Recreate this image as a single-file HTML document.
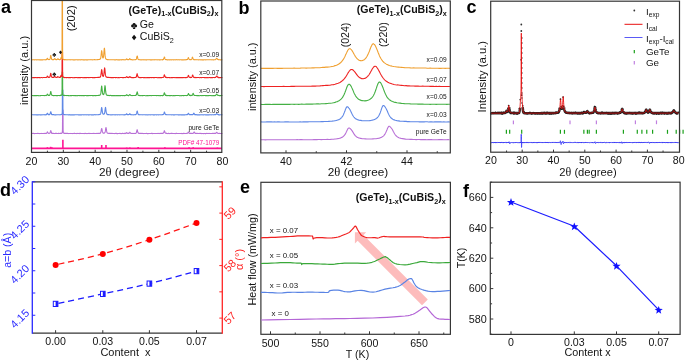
<!DOCTYPE html>
<html><head><meta charset="utf-8"><style>
html,body{margin:0;padding:0;background:#fff;}
svg{display:block;will-change:transform;font-family:"Liberation Sans", sans-serif;}
</style></head><body>
<svg width="685" height="360" viewBox="0 0 685 360">
<rect width="685" height="360" fill="#fff"/>
<path d="M31.5,133.43 32.01,133.4 32.52,133.47 33.03,133.41 33.54,133.39 34.05,133.47 34.56,133.6 35.06,133.57 35.57,133.56 36.08,133.43 36.59,133.5 37.1,133.44 37.61,133.42 38.12,133.4 38.63,133.43 39.14,133.6 39.65,133.57 40.16,133.57 40.67,133.56 41.18,133.42 41.69,133.44 42.19,133.52 42.7,133.54 43.21,133.57 43.72,133.57 44.23,133.37 44.74,133.49 45.25,133.49 45.38,133.45 45.51,133.36 45.63,133.43 45.76,133.33 45.89,133.52 46.01,133.49 46.14,133.4 46.27,133.31 46.4,133.41 46.52,133.26 46.65,133.23 46.78,133.07 46.91,132.79 47.03,132.52 47.16,132.3 47.29,132.04 47.41,131.89 47.54,132.01 47.67,132.34 47.8,132.41 47.92,132.66 48.05,133 48.18,133.06 48.31,133.22 48.43,133.27 48.56,133.27 48.69,133.45 48.82,133.26 48.94,133.32 49.07,133.26 49.2,133.36 49.32,133.26 49.45,133.25 49.58,133.3 49.71,133.13 49.83,133.08 49.96,132.99 50.09,132.55 50.22,132.18 50.34,131.78 50.47,131.42 50.6,130.95 50.73,130.63 50.85,130.73 50.98,131.05 51.11,131.6 51.23,131.98 51.36,132.54 51.49,132.89 51.62,133.12 51.74,133.21 51.87,133.35 52,133.18 52.13,133.28 52.25,133.47 52.38,133.44 52.51,133.37 52.64,133.51 52.76,133.44 52.89,133.5 53.02,133.38 53.14,133.36 53.27,133.43 53.4,133.36 53.91,133.43 54.42,133.58 54.93,133.43 55.44,133.36 55.95,133.37 56.45,133.4 56.96,133.54 57.47,133.44 57.98,133.42 58.49,133.37 59,133.58 59.51,133.44 60.02,133.37 60.53,133.31 60.66,133.29 60.78,133.31 60.91,133.42 61.04,133.27 61.17,133.23 61.29,133.31 61.42,133.22 61.55,133.36 61.67,133.09 61.71,133.17 61.75,133.2 61.79,133.09 61.83,133.2 61.87,133.05 61.9,132.96 61.94,132.97 61.98,132.84 62.02,132.88 62.06,132.79 62.09,132.89 62.13,132.81 62.17,132.66 62.21,132.47 62.25,132.44 62.29,132.33 62.32,132.18 62.36,131.94 62.4,131.59 62.44,130.2 62.48,127.3 62.52,121.24 62.55,110 62.59,110 62.63,110 62.67,110 62.71,110 62.74,110 62.78,110 62.82,110 62.86,110 62.9,110 62.94,110 62.97,110 63.01,110 63.05,117.83 63.09,125.84 63.13,129.65 63.16,131.24 63.2,131.96 63.24,132.19 63.28,132.38 63.32,132.51 63.36,132.5 63.39,132.74 63.43,132.82 63.47,132.68 63.51,132.95 63.64,133.1 63.76,133.14 63.89,133.06 64.02,133.33 64.14,133.19 64.27,133.42 64.4,133.38 64.53,133.25 64.65,133.3 64.78,133.42 64.91,133.42 65.04,133.47 65.16,133.52 65.29,133.36 65.42,133.32 65.93,133.55 66.44,133.35 66.95,133.56 67.46,133.38 67.96,133.55 68.47,133.55 68.98,133.58 69.49,133.5 70,133.58 70.51,133.42 71.02,133.53 71.53,133.45 72.04,133.59 72.55,133.56 73.06,133.49 73.57,133.5 74.08,133.38 74.59,133.38 75.09,133.52 75.6,133.49 76.11,133.58 76.62,133.52 77.13,133.41 77.64,133.46 78.15,133.56 78.66,133.5 79.17,133.38 79.68,133.58 80.19,133.57 80.7,133.39 81.21,133.5 81.72,133.47 82.22,133.56 82.73,133.45 83.24,133.43 83.75,133.49 84.26,133.61 84.77,133.4 85.28,133.4 85.79,133.52 86.3,133.58 86.81,133.5 87.32,133.48 87.83,133.58 88.34,133.56 88.84,133.39 89.35,133.58 89.86,133.42 90.37,133.44 90.88,133.57 91.39,133.47 91.9,133.56 92.41,133.4 92.92,133.57 93.43,133.4 93.94,133.39 94.45,133.47 94.96,133.43 95.47,133.48 95.97,133.56 96.48,133.51 96.99,133.33 97.5,133.39 98.01,133.43 98.52,133.4 99.03,133.42 99.54,133.3 99.67,133.19 99.79,133.2 99.92,133.31 100.05,133.15 100.18,133.2 100.3,133.17 100.43,132.98 100.56,132.82 100.69,132.57 100.81,132.16 100.94,131.86 101.07,131.18 101.19,130.61 101.32,129.73 101.45,129.18 101.58,128.66 101.7,128.48 101.83,128.69 101.96,129.18 102.09,130.04 102.21,130.66 102.34,131.38 102.47,131.78 102.6,132.17 102.72,132.48 102.85,132.85 102.98,132.83 103.1,133.1 103.23,133.03 103.36,133.11 103.49,133.08 103.61,133.16 103.74,133.04 103.87,133.11 104,133.23 104.12,133.03 104.25,133.12 104.38,133 104.51,132.93 104.63,132.77 104.76,132.63 104.89,132.65 105.01,132.31 105.14,131.88 105.27,131.31 105.4,130.63 105.52,129.61 105.65,128.84 105.78,128.04 105.91,127.56 106.03,127.6 106.16,127.98 106.29,128.77 106.42,129.44 106.54,130.42 106.67,131.17 106.8,131.8 106.92,132.23 107.05,132.61 107.18,132.72 107.31,133.03 107.43,133.01 107.56,133.13 107.69,133.26 107.82,133.26 107.94,133.19 108.07,133.2 108.2,133.25 108.32,133.34 108.45,133.45 108.58,133.44 109.09,133.36 109.6,133.39 110.11,133.51 110.62,133.39 111.13,133.43 111.64,133.34 112.14,133.39 112.65,133.48 113.16,133.52 113.67,133.5 114.18,133.45 114.69,133.59 115.2,133.51 115.71,133.4 116.22,133.38 116.73,133.6 117.24,133.6 117.75,133.59 118.26,133.51 118.77,133.44 119.27,133.39 119.78,133.43 120.29,133.42 120.8,133.59 121.31,133.58 121.82,133.55 122.33,133.4 122.84,133.42 123.35,133.43 123.86,133.58 124.37,133.39 124.49,133.54 124.62,133.51 124.75,133.47 124.88,133.57 125,133.4 125.13,133.45 125.26,133.36 125.39,133.33 125.51,133.3 125.64,133.34 125.77,133.26 125.9,133.18 126.02,133.32 126.15,133.03 126.28,133.03 126.4,132.83 126.53,132.7 126.66,132.62 126.79,132.73 126.91,132.83 127.04,132.95 127.17,133.06 127.3,133.22 127.42,133.31 127.55,133.34 127.68,133.36 127.8,133.3 127.93,133.48 128.06,133.4 128.19,133.3 128.31,133.33 128.44,133.49 128.57,133.33 128.7,133.35 128.82,133.39 128.95,133.39 129.08,133.19 129.21,133.1 129.33,132.97 129.46,132.69 129.59,132.71 129.71,132.34 129.84,132.49 129.97,132.35 130.1,132.5 130.22,132.85 130.35,133.03 130.48,133.04 130.61,133.23 130.73,133.3 130.86,133.4 130.99,133.31 131.12,133.48 131.24,133.54 131.37,133.48 131.5,133.54 131.62,133.54 131.75,133.41 131.88,133.53 132.01,133.53 132.13,133.47 132.26,133.36 132.39,133.48 132.52,133.55 133.02,133.41 133.53,133.48 134.04,133.53 134.55,133.45 135.06,133.28 135.19,133.41 135.32,133.3 135.44,133.43 135.57,133.36 135.7,133.24 135.83,133.34 135.95,133.21 136.08,133.04 136.21,133.01 136.34,132.79 136.46,132.46 136.59,132.01 136.72,131.4 136.84,130.79 136.97,130.18 137.1,129.77 137.23,129.84 137.35,130.02 137.48,130.52 137.61,131.29 137.74,131.81 137.86,132.3 137.99,132.66 138.12,132.83 138.25,132.98 138.37,133.06 138.5,133.3 138.63,133.38 138.75,133.36 138.88,133.25 139.01,133.47 139.14,133.45 139.26,133.39 139.39,133.28 139.52,133.49 139.65,133.45 139.77,133.45 140.28,133.33 140.79,133.52 141.3,133.36 141.81,133.47 142.32,133.39 142.83,133.45 143.34,133.58 143.85,133.55 144.36,133.56 144.87,133.44 145.38,133.46 145.88,133.52 146.39,133.38 146.9,133.47 147.41,133.61 147.92,133.55 148.43,133.58 148.94,133.44 149.45,133.54 149.96,133.56 150.47,133.54 150.98,133.48 151.49,133.42 152,133.38 152.5,133.59 153.01,133.6 153.52,133.44 154.03,133.55 154.54,133.47 155.05,133.52 155.56,133.57 156.07,133.45 156.58,133.52 157.09,133.43 157.6,133.49 158.11,133.38 158.62,133.43 159.13,133.43 159.63,133.58 160.14,133.39 160.65,133.53 161.16,133.36 161.67,133.57 162.18,133.35 162.31,133.32 162.44,133.34 162.56,133.5 162.69,133.42 162.82,133.46 162.95,133.34 163.07,133.21 163.2,133.21 163.33,133.16 163.45,133.16 163.58,132.78 163.71,132.53 163.84,132.32 163.96,131.72 164.09,131.47 164.22,130.9 164.35,130.73 164.47,130.8 164.6,131.16 164.73,131.39 164.85,132.03 164.98,132.28 165.11,132.73 165.24,132.81 165.36,133.15 165.49,133.12 165.62,133.2 165.75,133.2 165.87,133.3 166,133.33 166.13,133.5 166.26,133.43 166.38,133.38 166.51,133.54 166.64,133.35 166.76,133.37 166.89,133.55 167.02,133.56 167.53,133.51 168.04,133.59 168.55,133.37 169.06,133.58 169.57,133.53 170.08,133.53 170.58,133.57 171.09,133.39 171.6,133.42 172.11,133.4 172.62,133.49 173.13,133.5 173.64,133.5 174.15,133.46 174.66,133.55 175.17,133.58 175.68,133.56 176.19,133.38 176.7,133.41 177.21,133.43 177.71,133.43 178.22,133.51 178.73,133.42 179.24,133.52 179.75,133.46 180.26,133.46 180.77,133.54 181.28,133.6 181.79,133.42 182.3,133.46 182.81,133.61 183.32,133.42 183.83,133.37 184.33,133.41 184.84,133.56 185.35,133.53 185.86,133.57 186.37,133.45 186.5,133.34 186.63,133.4 186.75,133.49 186.88,133.4 187.01,133.32 187.14,133.36 187.26,133.35 187.39,133.28 187.52,133.23 187.65,133.06 187.77,132.89 187.9,132.88 188.03,132.65 188.15,132.35 188.28,132.09 188.41,132.04 188.54,132.16 188.66,132.42 188.79,132.54 188.92,132.88 189.05,132.97 189.17,133.04 189.3,133.25 189.43,133.32 189.56,133.37 189.68,133.43 189.81,133.29 189.94,133.4 190.06,133.5 190.19,133.35 190.32,133.33 190.45,133.37 190.57,133.4 190.7,133.43 190.83,133.41 190.96,133.49 191.08,133.37 191.59,133.42 192.1,133.48 192.23,133.45 192.36,133.54 192.48,133.53 192.61,133.36 192.74,133.36 192.87,133.39 192.99,133.36 193.12,133.27 193.25,133.31 193.37,133.04 193.5,132.96 193.63,132.67 193.76,132.62 193.88,132.31 194.01,132.2 194.14,131.91 194.27,132.11 194.39,132.26 194.52,132.37 194.65,132.8 194.78,133.02 194.9,132.99 195.03,133.32 195.16,133.36 195.28,133.37 195.41,133.39 195.54,133.34 195.67,133.31 195.79,133.42 195.92,133.53 196.05,133.38 196.18,133.44 196.3,133.4 196.43,133.51 196.56,133.57 196.68,133.56 196.81,133.42 197.32,133.46 197.83,133.36 198.34,133.49 198.85,133.57 199.36,133.57 199.87,133.39 200.38,133.48 200.89,133.39 201.4,133.48 201.91,133.59 202.41,133.44 202.92,133.58 203.43,133.6 203.94,133.57 204.45,133.42 204.96,133.6 205.47,133.6 205.98,133.62 206.49,133.38 207,133.38 207.51,133.45 208.02,133.5 208.53,133.48 209.04,133.4 209.54,133.53 210.05,133.53 210.56,133.52 211.07,133.49 211.58,133.5 212.09,133.53 212.6,133.38 213.11,133.47 213.62,133.39 214.13,133.37 214.64,133.52 214.76,133.4 214.89,133.4 215.02,133.38 215.15,133.44 215.27,133.31 215.4,133.41 215.53,133.24 215.66,133.4 215.78,133.14 215.91,133.2 216.04,133.04 216.16,132.88 216.29,132.71 216.42,132.58 216.55,132.55 216.67,132.42 216.8,132.41 216.93,132.41 217.06,132.61 217.18,132.64 217.31,132.86 217.44,133.04 217.57,133.12 217.69,133.23 217.82,133.29 217.95,133.26 218.07,133.48 218.2,133.44 218.33,133.47 218.46,133.54 218.58,133.43 218.71,133.41 218.84,133.4 218.97,133.41 219.09,133.41 219.22,133.42 219.35,133.4 219.86,133.47 220.37,133.43 220.88,133.45 221.39,133.53 221.89,133.45 222.4,133.58" fill="none" stroke="#b870d6" stroke-width="1.1" stroke-linejoin="round" />
<path d="M31.5,114.73 32.01,114.81 32.52,114.77 33.03,114.82 33.54,114.83 34.05,114.69 34.56,114.68 35.06,114.88 35.57,114.74 36.08,114.73 36.59,114.91 37.1,114.79 37.61,114.88 38.12,114.79 38.63,114.83 39.14,114.71 39.65,114.83 40.16,114.88 40.67,114.8 41.18,114.85 41.69,114.83 42.19,114.68 42.7,114.85 43.21,114.8 43.72,114.73 44.23,114.66 44.74,114.85 45.25,114.74 45.38,114.8 45.51,114.83 45.63,114.79 45.76,114.83 45.89,114.69 46.01,114.77 46.14,114.67 46.27,114.76 46.4,114.7 46.52,114.45 46.65,114.35 46.78,114.22 46.91,114.19 47.03,113.82 47.16,113.6 47.29,113.31 47.41,113.27 47.54,113.32 47.67,113.53 47.8,113.84 47.92,114.08 48.05,114.36 48.18,114.45 48.31,114.61 48.43,114.65 48.56,114.72 48.69,114.66 48.82,114.55 48.94,114.72 49.07,114.74 49.2,114.71 49.32,114.61 49.45,114.62 49.58,114.45 49.71,114.53 49.83,114.34 49.96,114.08 50.09,113.75 50.22,113.55 50.34,113.09 50.47,112.33 50.6,112.02 50.73,111.67 50.85,111.7 50.98,112.13 51.11,112.77 51.23,113.32 51.36,113.57 51.49,114.05 51.62,114.15 51.74,114.46 51.87,114.47 52,114.66 52.13,114.73 52.25,114.64 52.38,114.78 52.51,114.63 52.64,114.59 52.76,114.73 52.89,114.6 53.02,114.65 53.14,114.71 53.27,114.76 53.4,114.66 53.91,114.64 54.42,114.85 54.93,114.72 55.44,114.88 55.95,114.87 56.45,114.75 56.96,114.76 57.47,114.78 57.98,114.8 58.49,114.79 59,114.77 59.51,114.78 60.02,114.84 60.53,114.7 60.66,114.67 60.78,114.72 60.91,114.59 61.04,114.58 61.17,114.72 61.29,114.57 61.42,114.53 61.55,114.34 61.67,114.36 61.71,114.37 61.75,114.2 61.79,114.31 61.83,114.27 61.87,114.09 61.9,114.17 61.94,114.08 61.98,114.07 62.02,113.92 62.06,113.92 62.09,113.84 62.13,113.55 62.17,113.41 62.21,113.29 62.25,112.78 62.29,111.2 62.32,107.94 62.36,100.91 62.4,90 62.44,90 62.48,90 62.52,90 62.55,90 62.59,90 62.63,90 62.67,90 62.71,90 62.74,90 62.78,90 62.82,90 62.86,90 62.9,100.96 62.94,107.89 62.97,111.18 63.01,112.65 63.05,113.3 63.09,113.42 63.13,113.63 63.16,113.74 63.2,113.95 63.24,113.94 63.28,114.11 63.32,114.01 63.36,114.11 63.39,114.23 63.43,114.33 63.47,114.27 63.51,114.25 63.64,114.33 63.76,114.5 63.89,114.47 64.02,114.66 64.14,114.7 64.27,114.57 64.4,114.61 64.53,114.75 64.65,114.73 64.78,114.78 64.91,114.68 65.04,114.63 65.16,114.68 65.29,114.81 65.8,114.7 66.31,114.73 66.82,114.75 67.33,114.76 67.84,114.76 68.35,114.88 68.86,114.7 69.36,114.67 69.87,114.89 70.38,114.88 70.89,114.91 71.4,114.77 71.91,114.9 72.42,114.89 72.93,114.73 73.44,114.85 73.95,114.87 74.46,114.83 74.97,114.8 75.48,114.74 75.99,114.76 76.49,114.73 77,114.69 77.51,114.81 78.02,114.74 78.53,114.87 79.04,114.68 79.55,114.89 80.06,114.84 80.57,114.89 81.08,114.89 81.59,114.89 82.1,114.81 82.61,114.68 83.12,114.85 83.62,114.71 84.13,114.74 84.64,114.83 85.15,114.8 85.66,114.77 86.17,114.9 86.68,114.82 87.19,114.75 87.7,114.73 88.21,114.87 88.72,114.78 89.23,114.85 89.74,114.75 90.25,114.71 90.75,114.79 91.26,114.86 91.77,114.7 92.28,114.85 92.79,114.88 93.3,114.85 93.81,114.85 94.32,114.65 94.83,114.79 95.34,114.85 95.85,114.64 96.36,114.69 96.87,114.68 97.38,114.72 97.88,114.68 98.39,114.66 98.9,114.69 99.41,114.43 99.54,114.42 99.67,114.41 99.79,114.37 99.92,114.31 100.05,114.47 100.18,114.36 100.3,114.06 100.43,114 100.56,113.72 100.69,113.38 100.81,112.9 100.94,112.33 101.07,111.49 101.19,110.46 101.32,109.36 101.45,108.41 101.58,107.64 101.7,107.54 101.83,107.94 101.96,108.67 102.09,109.62 102.21,110.67 102.34,111.64 102.47,112.46 102.6,113.09 102.72,113.41 102.85,113.8 102.98,113.95 103.1,114.03 103.23,114.09 103.36,114.17 103.49,114.24 103.61,114.18 103.74,114.23 103.87,114.15 104,114.04 104.12,114.02 104.25,113.91 104.38,113.54 104.51,113.29 104.63,112.82 104.76,112.28 104.89,111.47 105.01,110.36 105.14,109.43 105.27,108.41 105.4,107.57 105.52,107.42 105.65,107.72 105.78,108.72 105.91,109.73 106.03,110.84 106.16,111.76 106.29,112.51 106.42,113.13 106.54,113.54 106.67,113.74 106.8,114.07 106.92,114.07 107.05,114.21 107.18,114.43 107.31,114.31 107.43,114.37 107.56,114.4 107.69,114.62 107.82,114.48 107.94,114.46 108.07,114.68 108.58,114.56 109.09,114.77 109.6,114.75 110.11,114.81 110.62,114.85 111.13,114.77 111.64,114.83 112.14,114.65 112.65,114.83 113.16,114.77 113.67,114.82 114.18,114.68 114.69,114.84 115.2,114.88 115.71,114.67 116.22,114.74 116.73,114.8 117.24,114.86 117.75,114.72 118.26,114.71 118.77,114.72 119.27,114.81 119.78,114.85 120.29,114.76 120.8,114.75 121.31,114.76 121.82,114.75 122.33,114.76 122.84,114.68 123.35,114.78 123.86,114.89 124.37,114.75 124.49,114.83 124.62,114.68 124.75,114.81 124.88,114.82 125,114.79 125.13,114.75 125.26,114.73 125.39,114.76 125.51,114.81 125.64,114.6 125.77,114.55 125.9,114.65 126.02,114.6 126.15,114.38 126.28,114.22 126.4,114.13 126.53,113.87 126.66,113.82 126.79,113.85 126.91,114.06 127.04,114.15 127.17,114.28 127.3,114.51 127.42,114.67 127.55,114.57 127.68,114.71 127.8,114.66 127.93,114.78 128.06,114.72 128.19,114.65 128.31,114.64 128.44,114.59 128.57,114.69 128.7,114.65 128.82,114.57 128.95,114.57 129.08,114.49 129.21,114.49 129.33,114.2 129.46,114.22 129.59,113.91 129.71,113.78 129.84,113.67 129.97,113.81 130.1,113.96 130.22,114.08 130.35,114.25 130.48,114.46 130.61,114.61 130.73,114.58 130.86,114.71 130.99,114.79 131.12,114.7 131.24,114.65 131.37,114.66 131.5,114.79 131.62,114.78 131.75,114.85 131.88,114.83 132.01,114.69 132.13,114.68 132.26,114.69 132.39,114.68 132.52,114.8 133.02,114.84 133.53,114.84 134.04,114.68 134.55,114.81 135.06,114.64 135.19,114.66 135.32,114.71 135.44,114.54 135.57,114.52 135.7,114.66 135.83,114.49 135.95,114.44 136.08,114.4 136.21,114.27 136.34,113.88 136.46,113.62 136.59,113.2 136.72,112.66 136.84,111.97 136.97,111.48 137.1,111.17 137.23,111 137.35,111.37 137.48,111.83 137.61,112.49 137.74,113.15 137.86,113.49 137.99,114.03 138.12,114.29 138.25,114.26 138.37,114.57 138.5,114.5 138.63,114.65 138.75,114.68 138.88,114.59 139.01,114.7 139.14,114.71 139.26,114.76 139.39,114.64 139.52,114.77 139.65,114.83 139.77,114.77 140.28,114.75 140.79,114.67 141.3,114.77 141.81,114.74 142.32,114.83 142.83,114.82 143.34,114.8 143.85,114.71 144.36,114.82 144.87,114.82 145.38,114.71 145.88,114.88 146.39,114.83 146.9,114.7 147.41,114.9 147.92,114.71 148.43,114.75 148.94,114.85 149.45,114.82 149.96,114.81 150.47,114.83 150.98,114.78 151.49,114.75 152,114.72 152.5,114.69 153.01,114.85 153.52,114.85 154.03,114.8 154.54,114.85 155.05,114.76 155.56,114.74 156.07,114.76 156.58,114.88 157.09,114.68 157.6,114.79 158.11,114.73 158.62,114.85 159.13,114.75 159.63,114.74 160.14,114.75 160.65,114.78 161.16,114.83 161.67,114.71 162.18,114.81 162.31,114.63 162.44,114.65 162.56,114.6 162.69,114.59 162.82,114.73 162.95,114.69 163.07,114.53 163.2,114.48 163.33,114.45 163.45,114.4 163.58,114.23 163.71,113.95 163.84,113.56 163.96,113.03 164.09,112.63 164.22,112.17 164.35,112.02 164.47,112.08 164.6,112.29 164.73,112.73 164.85,113.32 164.98,113.54 165.11,114.05 165.24,114.31 165.36,114.49 165.49,114.47 165.62,114.58 165.75,114.63 165.87,114.68 166,114.78 166.13,114.73 166.26,114.65 166.38,114.8 166.51,114.72 166.64,114.75 166.76,114.79 166.89,114.62 167.02,114.81 167.53,114.8 168.04,114.77 168.55,114.78 169.06,114.77 169.57,114.71 170.08,114.79 170.58,114.68 171.09,114.79 171.6,114.83 172.11,114.78 172.62,114.81 173.13,114.9 173.64,114.89 174.15,114.71 174.66,114.86 175.17,114.82 175.68,114.69 176.19,114.76 176.7,114.73 177.21,114.69 177.71,114.8 178.22,114.9 178.73,114.75 179.24,114.88 179.75,114.84 180.26,114.71 180.77,114.88 181.28,114.82 181.79,114.89 182.3,114.84 182.81,114.85 183.32,114.75 183.83,114.86 184.33,114.89 184.84,114.87 185.35,114.76 185.86,114.83 186.37,114.75 186.5,114.65 186.63,114.63 186.75,114.63 186.88,114.65 187.01,114.62 187.14,114.68 187.26,114.7 187.39,114.61 187.52,114.51 187.65,114.45 187.77,114.22 187.9,114.06 188.03,113.89 188.15,113.56 188.28,113.31 188.41,113.39 188.54,113.41 188.66,113.51 188.79,113.75 188.92,114.02 189.05,114.25 189.17,114.32 189.3,114.39 189.43,114.52 189.56,114.71 189.68,114.59 189.81,114.68 189.94,114.63 190.06,114.65 190.19,114.65 190.32,114.71 190.45,114.66 190.57,114.63 190.7,114.65 190.83,114.66 190.96,114.74 191.08,114.64 191.59,114.63 191.72,114.72 191.85,114.71 191.97,114.78 192.1,114.61 192.23,114.69 192.36,114.67 192.48,114.57 192.61,114.77 192.74,114.55 192.87,114.45 192.99,114.45 193.12,114.23 193.25,114.16 193.37,113.86 193.5,113.54 193.63,113.28 193.76,113.28 193.88,113.15 194.01,113.41 194.14,113.57 194.27,113.95 194.39,114.04 194.52,114.22 194.65,114.38 194.78,114.61 194.9,114.64 195.03,114.62 195.16,114.59 195.28,114.75 195.41,114.83 195.54,114.75 195.67,114.62 195.79,114.63 195.92,114.65 196.05,114.68 196.18,114.65 196.3,114.66 196.43,114.8 196.94,114.87 197.45,114.71 197.96,114.9 198.47,114.78 198.98,114.86 199.49,114.89 200,114.9 200.5,114.68 201.01,114.75 201.52,114.82 202.03,114.9 202.54,114.7 203.05,114.75 203.56,114.88 204.07,114.7 204.58,114.77 205.09,114.76 205.6,114.84 206.11,114.9 206.62,114.72 207.13,114.85 207.63,114.85 208.14,114.88 208.65,114.81 209.16,114.9 209.67,114.76 210.18,114.77 210.69,114.73 211.2,114.86 211.71,114.78 212.22,114.73 212.73,114.7 213.24,114.83 213.75,114.8 214.26,114.81 214.38,114.73 214.51,114.75 214.64,114.67 214.76,114.79 214.89,114.62 215.02,114.72 215.15,114.77 215.27,114.73 215.4,114.57 215.53,114.56 215.66,114.65 215.78,114.53 215.91,114.49 216.04,114.37 216.16,114.13 216.29,114.08 216.42,113.89 216.55,113.66 216.67,113.58 216.8,113.5 216.93,113.65 217.06,113.91 217.18,113.86 217.31,114.13 217.44,114.16 217.57,114.28 217.69,114.52 217.82,114.5 217.95,114.51 218.07,114.57 218.2,114.72 218.33,114.73 218.46,114.6 218.58,114.67 218.71,114.85 218.84,114.68 218.97,114.77 219.09,114.74 219.22,114.83 219.35,114.79 219.86,114.84 220.37,114.79 220.88,114.71 221.39,114.71 221.89,114.69 222.4,114.87" fill="none" stroke="#5f88e6" stroke-width="1.1" stroke-linejoin="round" />
<path d="M31.5,95.71 32.01,95.7 32.52,95.49 33.03,95.5 33.54,95.68 34.05,95.65 34.56,95.64 35.06,95.55 35.57,95.62 36.08,95.62 36.59,95.61 37.1,95.51 37.61,95.58 38.12,95.57 38.63,95.65 39.14,95.71 39.65,95.7 40.16,95.6 40.67,95.58 41.18,95.53 41.69,95.48 42.19,95.47 42.7,95.57 43.21,95.54 43.72,95.55 44.23,95.66 44.74,95.57 45.25,95.56 45.38,95.48 45.51,95.42 45.63,95.49 45.76,95.43 45.89,95.51 46.01,95.62 46.14,95.52 46.27,95.37 46.4,95.5 46.52,95.41 46.65,95.29 46.78,95.18 46.91,94.94 47.03,94.69 47.16,94.33 47.29,94.26 47.41,94.17 47.54,94.06 47.67,94.41 47.8,94.66 47.92,94.84 48.05,95.05 48.18,95.19 48.31,95.39 48.43,95.34 48.56,95.46 48.69,95.36 48.82,95.49 48.94,95.49 49.07,95.37 49.2,95.38 49.32,95.44 49.45,95.35 49.58,95.23 49.71,95.07 49.83,94.93 49.96,94.76 50.09,94.24 50.22,93.89 50.34,93.07 50.47,92.5 50.6,91.7 50.73,91.51 50.85,91.57 50.98,92.05 51.11,92.78 51.23,93.52 51.36,94.11 51.49,94.5 51.62,94.8 51.74,95.08 51.87,95.32 52,95.33 52.13,95.25 52.25,95.47 52.38,95.47 52.51,95.54 52.64,95.39 52.76,95.53 52.89,95.38 53.02,95.54 53.14,95.45 53.27,95.45 53.4,95.61 53.91,95.45 54.42,95.56 54.93,95.65 55.44,95.5 55.95,95.5 56.45,95.66 56.96,95.55 57.47,95.62 57.98,95.45 58.49,95.53 59,95.47 59.51,95.58 60.02,95.41 60.15,95.62 60.27,95.38 60.4,95.54 60.53,95.35 60.66,95.39 60.78,95.5 60.91,95.32 61.04,95.29 61.17,95.37 61.29,95.23 61.42,95.07 61.55,95.18 61.67,94.82 61.71,94.73 61.75,94.74 61.79,94.73 61.83,94.67 61.87,94.41 61.9,94.33 61.94,94.05 61.98,93.7 62.02,92.73 62.06,90.22 62.09,84.71 62.13,73.67 62.17,72 62.21,72 62.25,72 62.29,72 62.32,72 62.36,72 62.4,72 62.44,72 62.48,72 62.52,72 62.55,72 62.59,72 62.63,78.06 62.67,86.85 62.71,91.35 62.74,93.07 62.78,93.93 62.82,94.23 62.86,94.31 62.9,94.56 62.94,94.55 62.97,94.62 63.01,94.69 63.05,94.78 63.09,94.83 63.13,95.01 63.16,95.03 63.2,95.18 63.24,95.21 63.28,95.26 63.32,95.11 63.36,95.19 63.39,95.16 63.43,95.27 63.47,95.3 63.51,95.36 63.64,95.39 63.76,95.32 63.89,95.4 64.02,95.45 64.14,95.34 64.27,95.37 64.4,95.47 64.53,95.41 64.65,95.57 64.78,95.46 64.91,95.43 65.04,95.46 65.55,95.49 66.05,95.5 66.56,95.58 67.07,95.57 67.58,95.53 68.09,95.62 68.6,95.51 69.11,95.68 69.62,95.7 70.13,95.64 70.64,95.57 71.15,95.59 71.66,95.61 72.17,95.48 72.68,95.57 73.18,95.6 73.69,95.52 74.2,95.49 74.71,95.66 75.22,95.56 75.73,95.6 76.24,95.69 76.75,95.62 77.26,95.54 77.77,95.71 78.28,95.56 78.79,95.48 79.3,95.64 79.81,95.5 80.31,95.54 80.82,95.67 81.33,95.63 81.84,95.47 82.35,95.58 82.86,95.57 83.37,95.59 83.88,95.52 84.39,95.61 84.9,95.49 85.41,95.54 85.92,95.56 86.43,95.69 86.94,95.48 87.44,95.65 87.95,95.51 88.46,95.6 88.97,95.56 89.48,95.57 89.99,95.64 90.5,95.55 91.01,95.49 91.52,95.48 92.03,95.47 92.54,95.65 93.05,95.6 93.56,95.67 94.07,95.61 94.57,95.44 95.08,95.59 95.59,95.61 96.1,95.58 96.61,95.52 97.12,95.47 97.63,95.47 98.14,95.52 98.65,95.34 99.16,95.33 99.29,95.29 99.41,95.38 99.54,95.31 99.67,95.3 99.79,95.22 99.92,95.03 100.05,94.94 100.18,94.9 100.3,94.7 100.43,94.53 100.56,94.28 100.69,93.88 100.81,93.17 100.94,92.38 101.07,91.13 101.19,89.92 101.32,88.69 101.45,87.19 101.58,86.32 101.7,85.96 101.83,86.44 101.96,87.69 102.09,89.04 102.21,90.3 102.34,91.37 102.47,92.39 102.6,93.13 102.72,93.77 102.85,94.14 102.98,94.32 103.1,94.48 103.23,94.45 103.36,94.57 103.49,94.64 103.61,94.51 103.74,94.2 103.87,94.05 104,93.71 104.12,93.02 104.25,92.38 104.38,91.23 104.51,90.03 104.63,88.56 104.76,87.32 104.89,86.2 105.01,85.68 105.14,85.91 105.27,86.98 105.4,88.24 105.52,89.81 105.65,91.2 105.78,92.14 105.91,93.1 106.03,93.74 106.16,94.18 106.29,94.57 106.42,94.84 106.54,94.93 106.67,94.98 106.8,95.18 106.92,95.09 107.05,95.24 107.18,95.26 107.31,95.32 107.43,95.37 107.56,95.25 107.69,95.37 108.2,95.38 108.71,95.49 109.22,95.6 109.73,95.53 110.23,95.4 110.74,95.52 111.25,95.59 111.76,95.64 112.27,95.59 112.78,95.63 113.29,95.45 113.8,95.67 114.31,95.62 114.82,95.6 115.33,95.67 115.84,95.67 116.35,95.48 116.86,95.65 117.36,95.64 117.87,95.51 118.38,95.64 118.89,95.6 119.4,95.51 119.91,95.66 120.42,95.5 120.93,95.61 121.44,95.57 121.95,95.52 122.46,95.6 122.97,95.57 123.48,95.51 123.99,95.68 124.49,95.46 124.62,95.44 124.75,95.55 124.88,95.64 125,95.59 125.13,95.61 125.26,95.53 125.39,95.57 125.51,95.47 125.64,95.43 125.77,95.45 125.9,95.27 126.02,95.2 126.15,95.24 126.28,94.95 126.4,94.93 126.53,94.81 126.66,94.65 126.79,94.76 126.91,94.91 127.04,95.08 127.17,95.06 127.3,95.19 127.42,95.33 127.55,95.41 127.68,95.41 127.8,95.37 127.93,95.51 128.06,95.61 128.19,95.47 128.31,95.51 128.44,95.47 128.57,95.48 128.7,95.56 128.82,95.4 128.95,95.44 129.08,95.33 129.21,95.24 129.33,95.18 129.46,94.8 129.59,94.79 129.71,94.5 129.84,94.51 129.97,94.6 130.1,94.72 130.22,94.84 130.35,95.13 130.48,95.11 130.61,95.35 130.73,95.37 130.86,95.46 130.99,95.57 131.12,95.57 131.24,95.55 131.37,95.48 131.5,95.47 131.62,95.53 131.75,95.48 131.88,95.49 132.01,95.66 132.13,95.46 132.26,95.63 132.39,95.52 132.52,95.52 133.02,95.51 133.53,95.45 134.04,95.53 134.55,95.44 135.06,95.47 135.19,95.42 135.32,95.55 135.44,95.54 135.57,95.4 135.7,95.42 135.83,95.44 135.95,95.23 136.08,95.08 136.21,94.96 136.34,94.72 136.46,94.51 136.59,93.99 136.72,93.43 136.84,92.91 136.97,92.19 137.1,91.94 137.23,91.86 137.35,92.13 137.48,92.79 137.61,93.3 137.74,94 137.86,94.49 137.99,94.74 138.12,95.03 138.25,95.26 138.37,95.32 138.5,95.39 138.63,95.47 138.75,95.52 138.88,95.5 139.01,95.57 139.14,95.42 139.26,95.52 139.39,95.54 139.52,95.48 139.65,95.49 139.77,95.45 140.28,95.66 140.79,95.52 141.3,95.56 141.81,95.67 142.32,95.5 142.83,95.69 143.34,95.49 143.85,95.47 144.36,95.55 144.87,95.55 145.38,95.69 145.88,95.68 146.39,95.65 146.9,95.58 147.41,95.6 147.92,95.53 148.43,95.67 148.94,95.57 149.45,95.54 149.96,95.63 150.47,95.51 150.98,95.55 151.49,95.7 152,95.5 152.5,95.51 153.01,95.52 153.52,95.53 154.03,95.57 154.54,95.53 155.05,95.55 155.56,95.53 156.07,95.53 156.58,95.62 157.09,95.55 157.6,95.56 158.11,95.65 158.62,95.48 159.13,95.5 159.63,95.67 160.14,95.56 160.65,95.64 161.16,95.48 161.67,95.56 162.18,95.61 162.31,95.48 162.44,95.57 162.56,95.52 162.69,95.46 162.82,95.58 162.95,95.41 163.07,95.4 163.2,95.38 163.33,95.22 163.45,95.22 163.58,94.98 163.71,94.71 163.84,94.35 163.96,94.03 164.09,93.57 164.22,93.13 164.35,92.8 164.47,92.84 164.6,93.16 164.73,93.48 164.85,93.95 164.98,94.57 165.11,94.69 165.24,95.12 165.36,95.23 165.49,95.4 165.62,95.27 165.75,95.37 165.87,95.52 166,95.35 166.13,95.39 166.26,95.46 166.38,95.43 166.51,95.44 166.64,95.57 166.76,95.44 166.89,95.65 167.02,95.58 167.53,95.45 168.04,95.67 168.55,95.51 169.06,95.58 169.57,95.6 170.08,95.5 170.58,95.59 171.09,95.48 171.6,95.52 172.11,95.69 172.62,95.67 173.13,95.6 173.64,95.64 174.15,95.68 174.66,95.51 175.17,95.59 175.68,95.5 176.19,95.5 176.7,95.5 177.21,95.52 177.71,95.49 178.22,95.52 178.73,95.56 179.24,95.62 179.75,95.68 180.26,95.69 180.77,95.64 181.28,95.59 181.79,95.69 182.3,95.51 182.81,95.49 183.32,95.66 183.83,95.61 184.33,95.51 184.84,95.54 185.35,95.52 185.86,95.54 186.37,95.52 186.5,95.5 186.63,95.59 186.75,95.58 186.88,95.51 187.01,95.46 187.14,95.39 187.26,95.46 187.39,95.45 187.52,95.17 187.65,95.14 187.77,94.93 187.9,94.66 188.03,94.19 188.15,93.99 188.28,93.64 188.41,93.51 188.54,93.69 188.66,93.95 188.79,94.26 188.92,94.61 189.05,94.88 189.17,95.04 189.3,95.09 189.43,95.37 189.56,95.45 189.68,95.5 189.81,95.47 189.94,95.36 190.06,95.41 190.19,95.4 190.32,95.53 190.45,95.51 190.57,95.43 190.7,95.62 190.83,95.62 190.96,95.6 191.08,95.49 191.21,95.45 191.34,95.42 191.46,95.56 191.59,95.52 191.72,95.4 191.85,95.53 191.97,95.41 192.1,95.32 192.23,95.23 192.36,95.17 192.48,94.92 192.61,94.71 192.74,94.26 192.87,94.04 192.99,93.6 193.12,93.53 193.25,93.34 193.37,93.56 193.5,93.93 193.63,94.26 193.76,94.62 193.88,94.99 194.01,95.02 194.14,95.3 194.27,95.38 194.39,95.47 194.52,95.43 194.65,95.46 194.78,95.45 194.9,95.5 195.03,95.45 195.16,95.45 195.28,95.53 195.41,95.46 195.54,95.54 195.67,95.57 195.79,95.51 196.3,95.49 196.81,95.6 197.32,95.66 197.83,95.52 198.34,95.61 198.85,95.63 199.36,95.68 199.87,95.63 200.38,95.54 200.89,95.52 201.4,95.67 201.91,95.54 202.41,95.48 202.92,95.68 203.43,95.52 203.94,95.55 204.45,95.55 204.96,95.54 205.47,95.65 205.98,95.56 206.49,95.58 207,95.57 207.51,95.67 208.02,95.48 208.53,95.61 209.04,95.5 209.54,95.51 210.05,95.62 210.56,95.56 211.07,95.48 211.58,95.61 212.09,95.68 212.6,95.62 213.11,95.57 213.62,95.64 214.13,95.66 214.64,95.45 214.76,95.48 214.89,95.63 215.02,95.61 215.15,95.42 215.27,95.51 215.4,95.52 215.53,95.4 215.66,95.36 215.78,95.23 215.91,95.04 216.04,94.88 216.16,94.67 216.29,94.62 216.42,94.3 216.55,94.25 216.67,94.09 216.8,94.09 216.93,94.31 217.06,94.32 217.18,94.54 217.31,94.71 217.44,94.85 217.57,95.01 217.69,95.21 217.82,95.37 217.95,95.27 218.07,95.53 218.2,95.5 218.33,95.38 218.46,95.55 218.58,95.49 218.71,95.53 218.84,95.44 218.97,95.54 219.09,95.55 219.22,95.62 219.35,95.58 219.86,95.62 220.37,95.63 220.88,95.51 221.39,95.47 221.89,95.58 222.4,95.5" fill="none" stroke="#44b044" stroke-width="1.1" stroke-linejoin="round" />
<path d="M31.5,77.51 32.01,77.68 32.52,77.66 33.03,77.54 33.54,77.59 34.05,77.58 34.56,77.63 35.06,77.66 35.57,77.5 36.08,77.48 36.59,77.67 37.1,77.58 37.61,77.66 38.12,77.47 38.63,77.58 39.14,77.64 39.65,77.52 40.16,77.7 40.67,77.68 41.18,77.47 41.69,77.47 42.19,77.59 42.7,77.69 43.21,77.55 43.72,77.5 44.23,77.55 44.74,77.44 45.25,77.48 45.38,77.52 45.51,77.53 45.63,77.46 45.76,77.45 45.89,77.44 46.01,77.48 46.14,77.42 46.27,77.33 46.4,77.48 46.52,77.34 46.65,77.26 46.78,77 46.91,76.99 47.03,76.7 47.16,76.26 47.29,76.1 47.41,76.1 47.54,76.18 47.67,76.45 47.8,76.58 47.92,76.92 48.05,77.08 48.18,77.13 48.31,77.3 48.43,77.43 48.56,77.45 48.69,77.38 48.82,77.41 48.94,77.27 49.07,77.31 49.2,77.42 49.32,77.3 49.45,77.2 49.58,77.23 49.71,77.16 49.83,76.98 49.96,76.65 50.09,76.27 50.22,75.74 50.34,75.12 50.47,74.31 50.6,73.61 50.73,73.28 50.85,73.29 50.98,73.84 51.11,74.73 51.23,75.53 51.36,76.05 51.49,76.47 51.62,76.75 51.74,77.04 51.87,77.29 52,77.32 52.13,77.32 52.25,77.43 52.38,77.31 52.51,77.4 52.64,77.52 52.76,77.44 52.89,77.41 53.02,77.37 53.14,77.43 53.27,77.52 53.4,77.28 53.53,77.43 53.65,77.4 53.78,77.36 53.91,77.24 54.04,77.16 54.16,76.98 54.29,76.86 54.42,76.7 54.54,76.5 54.67,76.64 54.8,76.56 54.93,76.54 55.05,76.72 55.18,76.84 55.31,76.94 55.44,77.06 55.56,77.2 55.69,77.3 55.82,77.36 55.95,77.36 56.07,77.29 56.2,77.35 56.33,77.35 56.45,77.45 56.58,77.5 56.71,77.47 56.84,77.43 56.96,77.39 57.09,77.19 57.22,77.26 57.35,77.12 57.47,76.88 57.6,76.76 57.73,76.67 57.86,76.8 57.98,76.68 58.11,76.69 58.24,76.9 58.36,76.94 58.49,76.97 58.62,77.09 58.75,77.25 58.87,77.23 59,77.3 59.13,77.43 59.26,77.39 59.38,77.37 59.51,77.41 59.64,77.29 59.77,77.37 59.89,77.36 60.02,77.28 60.15,77.22 60.27,77.34 60.4,77.12 60.53,76.84 60.66,76.63 60.78,76.26 60.91,75.61 61.04,75.25 61.17,75.23 61.29,75.62 61.42,75.82 61.55,76.21 61.67,76.31 61.71,76.27 61.75,76.17 61.79,76.3 61.83,76.18 61.87,75.97 61.9,75.59 61.94,74.94 61.98,73.01 62.02,68.77 62.06,59.85 62.09,52 62.13,52 62.17,52 62.21,52 62.25,52 62.29,52 62.32,52 62.36,52 62.4,52 62.44,52 62.48,52 62.52,52 62.55,55.41 62.59,66.63 62.63,71.98 62.67,74.68 62.71,75.76 62.74,76.11 62.78,76.23 62.82,76.54 62.86,76.67 62.9,76.69 62.94,76.73 62.97,76.77 63.01,76.82 63.05,76.84 63.09,77.01 63.13,76.99 63.16,76.98 63.2,76.99 63.24,77.16 63.28,77.1 63.32,77.18 63.36,77.16 63.39,77.32 63.43,77.34 63.47,77.15 63.51,77.21 63.64,77.29 63.76,77.49 63.89,77.47 64.02,77.39 64.14,77.38 64.27,77.51 64.4,77.56 64.53,77.59 64.65,77.46 64.78,77.6 64.91,77.56 65.42,77.53 65.93,77.67 66.44,77.5 66.95,77.62 67.46,77.47 67.96,77.5 68.47,77.68 68.98,77.51 69.49,77.65 70,77.61 70.51,77.67 71.02,77.55 71.53,77.55 72.04,77.54 72.55,77.68 73.06,77.61 73.57,77.7 74.08,77.68 74.59,77.5 75.09,77.6 75.6,77.5 76.11,77.48 76.62,77.49 77.13,77.68 77.64,77.66 78.15,77.67 78.66,77.55 79.17,77.62 79.68,77.66 80.19,77.56 80.7,77.61 81.21,77.52 81.72,77.49 82.22,77.53 82.73,77.68 83.24,77.61 83.75,77.69 84.26,77.58 84.77,77.54 85.28,77.66 85.79,77.67 86.3,77.47 86.81,77.63 87.32,77.49 87.83,77.49 88.34,77.68 88.84,77.47 89.35,77.52 89.86,77.7 90.37,77.56 90.88,77.49 91.39,77.5 91.9,77.51 92.41,77.63 92.92,77.47 93.43,77.67 93.94,77.53 94.45,77.67 94.96,77.65 95.47,77.5 95.97,77.48 96.48,77.52 96.99,77.42 97.5,77.53 98.01,77.36 98.52,77.32 99.03,77.49 99.54,77.23 99.67,77.27 99.79,77.19 99.92,77.11 100.05,76.98 100.18,77.1 100.3,76.99 100.43,76.81 100.56,76.35 100.69,76 100.81,75.57 100.94,74.95 101.07,73.94 101.19,72.92 101.32,71.76 101.45,70.59 101.58,69.88 101.7,69.59 101.83,69.96 101.96,70.79 102.09,71.93 102.21,73.2 102.34,74.05 102.47,74.9 102.6,75.51 102.72,76 102.85,76.15 102.98,76.28 103.1,76.35 103.23,76.32 103.36,76.33 103.49,76.12 103.61,75.61 103.74,75.07 103.87,74.36 104,73.37 104.12,72.15 104.25,70.71 104.38,69.33 104.51,68.34 104.63,67.86 104.76,68.29 104.89,69.15 105.01,70.47 105.14,71.99 105.27,73.19 105.4,74.39 105.52,75.17 105.65,75.88 105.78,76.16 105.91,76.55 106.03,76.83 106.16,76.8 106.29,77.12 106.42,77.01 106.54,77.21 106.67,77.31 106.8,77.31 106.92,77.23 107.05,77.2 107.18,77.33 107.31,77.45 107.82,77.36 108.32,77.55 108.83,77.4 109.34,77.61 109.85,77.41 110.36,77.49 110.87,77.64 111.38,77.62 111.89,77.65 112.4,77.64 112.91,77.62 113.42,77.61 113.93,77.49 114.44,77.56 114.95,77.49 115.45,77.63 115.96,77.62 116.47,77.52 116.98,77.48 117.49,77.69 118,77.66 118.51,77.59 119.02,77.59 119.53,77.67 120.04,77.57 120.55,77.56 121.06,77.54 121.57,77.52 122.08,77.47 122.58,77.62 123.09,77.56 123.6,77.59 124.11,77.47 124.62,77.53 124.75,77.47 124.88,77.47 125,77.49 125.13,77.62 125.26,77.51 125.39,77.5 125.51,77.54 125.64,77.42 125.77,77.33 125.9,77.39 126.02,77.3 126.15,77.22 126.28,77.02 126.4,76.92 126.53,76.8 126.66,76.62 126.79,76.72 126.91,76.84 127.04,76.93 127.17,77.12 127.3,77.28 127.42,77.46 127.55,77.52 127.68,77.41 127.8,77.52 127.93,77.39 128.06,77.4 128.19,77.51 128.31,77.6 128.44,77.42 128.57,77.55 128.7,77.57 128.82,77.4 128.95,77.45 129.08,77.42 129.21,77.2 129.33,77.13 129.46,76.96 129.59,76.74 129.71,76.64 129.84,76.57 129.97,76.64 130.1,76.7 130.22,76.79 130.35,76.99 130.48,77.14 130.61,77.34 130.73,77.46 130.86,77.34 130.99,77.53 131.12,77.56 131.24,77.48 131.37,77.53 131.5,77.45 131.62,77.59 131.75,77.43 131.88,77.66 132.01,77.62 132.13,77.58 132.26,77.5 132.39,77.65 132.52,77.66 133.02,77.47 133.53,77.61 134.04,77.62 134.55,77.56 135.06,77.53 135.19,77.46 135.32,77.56 135.44,77.55 135.57,77.39 135.7,77.46 135.83,77.32 135.95,77.2 136.08,77.14 136.21,76.94 136.34,76.89 136.46,76.57 136.59,75.92 136.72,75.48 136.84,74.82 136.97,74.16 137.1,73.82 137.23,73.76 137.35,74.22 137.48,74.6 137.61,75.27 137.74,75.9 137.86,76.27 137.99,76.77 138.12,77.01 138.25,77.23 138.37,77.19 138.5,77.28 138.63,77.39 138.75,77.36 138.88,77.46 139.01,77.4 139.14,77.52 139.26,77.56 139.39,77.57 139.52,77.62 139.65,77.53 139.77,77.52 140.28,77.63 140.79,77.62 141.3,77.58 141.81,77.54 142.32,77.53 142.83,77.49 143.34,77.66 143.85,77.49 144.36,77.65 144.87,77.6 145.38,77.7 145.88,77.65 146.39,77.7 146.9,77.5 147.41,77.59 147.92,77.61 148.43,77.55 148.94,77.59 149.45,77.56 149.96,77.6 150.47,77.47 150.98,77.58 151.49,77.58 152,77.55 152.5,77.57 153.01,77.66 153.52,77.64 154.03,77.59 154.54,77.63 155.05,77.56 155.56,77.52 156.07,77.47 156.58,77.54 157.09,77.61 157.6,77.68 158.11,77.67 158.62,77.59 159.13,77.7 159.63,77.57 160.14,77.66 160.65,77.55 161.16,77.62 161.67,77.67 162.18,77.48 162.31,77.44 162.44,77.54 162.56,77.5 162.69,77.45 162.82,77.34 162.95,77.41 163.07,77.38 163.2,77.33 163.33,77.35 163.45,77.16 163.58,77.01 163.71,76.79 163.84,76.4 163.96,75.91 164.09,75.51 164.22,75.08 164.35,74.85 164.47,74.89 164.6,75.13 164.73,75.62 164.85,76.08 164.98,76.56 165.11,76.85 165.24,77.1 165.36,77.25 165.49,77.37 165.62,77.39 165.75,77.38 165.87,77.39 166,77.52 166.13,77.58 166.26,77.51 166.38,77.43 166.51,77.6 166.64,77.53 166.76,77.53 166.89,77.43 167.02,77.55 167.53,77.62 168.04,77.55 168.55,77.54 169.06,77.62 169.57,77.47 170.08,77.59 170.58,77.69 171.09,77.63 171.6,77.57 172.11,77.64 172.62,77.62 173.13,77.52 173.64,77.52 174.15,77.69 174.66,77.54 175.17,77.49 175.68,77.67 176.19,77.6 176.7,77.56 177.21,77.6 177.71,77.65 178.22,77.51 178.73,77.63 179.24,77.64 179.75,77.67 180.26,77.54 180.77,77.62 181.28,77.53 181.79,77.6 182.3,77.51 182.81,77.65 183.32,77.67 183.83,77.54 184.33,77.51 184.84,77.68 185.35,77.61 185.86,77.63 186.37,77.41 186.5,77.61 186.63,77.54 186.75,77.45 186.88,77.46 187.01,77.52 187.14,77.49 187.26,77.3 187.39,77.34 187.52,77.12 187.65,77.15 187.77,76.8 187.9,76.62 188.03,76.23 188.15,75.84 188.28,75.46 188.41,75.39 188.54,75.38 188.66,75.65 188.79,76.14 188.92,76.41 189.05,76.81 189.17,76.92 189.3,77.21 189.43,77.32 189.56,77.3 189.68,77.3 189.81,77.4 189.94,77.44 190.06,77.36 190.19,77.39 190.32,77.36 190.45,77.49 190.57,77.56 190.7,77.4 190.83,77.35 190.96,77.5 191.08,77.52 191.21,77.54 191.34,77.43 191.46,77.33 191.59,77.39 191.72,77.12 191.85,77.12 191.97,76.77 192.1,76.56 192.23,76.22 192.36,75.77 192.48,75.31 192.61,75.01 192.74,75.06 192.87,75.15 192.99,75.53 193.12,75.87 193.25,76.4 193.37,76.65 193.5,76.97 193.63,77.23 193.76,77.38 193.88,77.24 194.01,77.47 194.14,77.52 194.27,77.42 194.39,77.45 194.52,77.51 194.65,77.61 194.78,77.49 194.9,77.62 195.03,77.59 195.16,77.45 195.28,77.64 195.79,77.44 196.3,77.48 196.81,77.61 197.32,77.47 197.83,77.55 198.34,77.5 198.85,77.58 199.36,77.67 199.87,77.69 200.38,77.48 200.89,77.49 201.4,77.67 201.91,77.48 202.41,77.54 202.92,77.5 203.43,77.5 203.94,77.48 204.45,77.63 204.96,77.65 205.47,77.64 205.98,77.68 206.49,77.63 207,77.57 207.51,77.62 208.02,77.71 208.53,77.63 209.04,77.53 209.54,77.49 210.05,77.69 210.56,77.61 211.07,77.55 211.58,77.61 212.09,77.6 212.6,77.59 213.11,77.47 213.62,77.53 214.13,77.53 214.64,77.46 214.76,77.61 214.89,77.49 215.02,77.54 215.15,77.53 215.27,77.51 215.4,77.47 215.53,77.43 215.66,77.23 215.78,77.31 215.91,76.98 216.04,77.01 216.16,76.81 216.29,76.6 216.42,76.2 216.55,76.03 216.67,76.09 216.8,76 216.93,76.07 217.06,76.38 217.18,76.36 217.31,76.69 217.44,76.86 217.57,76.95 217.69,77.15 217.82,77.33 217.95,77.45 218.07,77.29 218.2,77.45 218.33,77.38 218.46,77.57 218.58,77.41 218.71,77.41 218.84,77.5 218.97,77.59 219.09,77.5 219.22,77.46 219.35,77.62 219.86,77.64 220.37,77.66 220.88,77.53 221.39,77.57 221.89,77.53 222.4,77.6" fill="none" stroke="#ee2222" stroke-width="1.1" stroke-linejoin="round" />
<path d="M31.5,59.88 32.01,59.86 32.52,59.78 33.03,59.74 33.54,59.8 34.05,59.77 34.56,59.86 35.06,59.75 35.57,59.79 36.08,59.81 36.59,59.89 37.1,59.79 37.61,59.74 38.12,59.85 38.63,59.82 39.14,59.73 39.65,59.89 40.16,59.9 40.67,59.86 41.18,59.88 41.69,59.74 42.19,59.84 42.7,59.88 43.21,59.82 43.72,59.77 44.23,59.67 44.74,59.74 45.25,59.77 45.38,59.84 45.51,59.84 45.63,59.72 45.76,59.8 45.89,59.65 46.01,59.76 46.14,59.68 46.27,59.53 46.4,59.65 46.52,59.51 46.65,59.5 46.78,59.31 46.91,58.95 47.03,58.82 47.16,58.64 47.29,58.28 47.41,58.21 47.54,58.42 47.67,58.47 47.8,58.81 47.92,58.98 48.05,59.35 48.18,59.45 48.31,59.46 48.43,59.43 48.56,59.52 48.69,59.58 48.82,59.69 48.94,59.49 49.07,59.58 49.2,59.6 49.32,59.53 49.45,59.56 49.58,59.42 49.71,59.42 49.83,59.17 49.96,58.9 50.09,58.47 50.22,57.96 50.34,57.23 50.47,56.53 50.6,55.79 50.73,55.4 50.85,55.53 50.98,56.18 51.11,56.92 51.23,57.61 51.36,58.13 51.49,58.76 51.62,59.12 51.74,59.34 51.87,59.46 52,59.55 52.13,59.61 52.25,59.56 52.38,59.55 52.51,59.64 52.64,59.55 52.76,59.69 52.89,59.71 53.02,59.72 53.14,59.64 53.27,59.72 53.4,59.61 53.53,59.55 53.65,59.56 53.78,59.58 53.91,59.49 54.04,59.36 54.16,59.07 54.29,59.07 54.42,58.91 54.54,58.84 54.67,58.83 54.8,58.69 54.93,58.87 55.05,58.83 55.18,58.98 55.31,59.25 55.44,59.25 55.56,59.47 55.69,59.38 55.82,59.45 55.95,59.62 56.07,59.49 56.2,59.64 56.33,59.72 56.45,59.63 56.58,59.66 56.71,59.48 56.84,59.59 56.96,59.54 57.09,59.47 57.22,59.35 57.35,59.25 57.47,59.29 57.6,58.96 57.73,58.87 57.86,59.05 57.98,58.86 58.11,58.9 58.24,59 58.36,59.25 58.49,59.38 58.62,59.25 58.75,59.43 58.87,59.41 59,59.49 59.13,59.51 59.26,59.64 59.38,59.57 59.51,59.54 59.64,59.61 59.77,59.49 59.89,59.48 60.02,59.67 60.15,59.44 60.27,59.41 60.4,59.37 60.53,59.2 60.66,58.9 60.78,58.3 60.91,57.96 61.04,57.68 61.17,57.41 61.29,57.81 61.42,58.19 61.55,58.33 61.67,58.41 61.71,58.48 61.75,58.42 61.79,58.31 61.83,58.3 61.87,58.15 61.9,57.88 61.94,57.11 61.98,55.19 62.02,50.92 62.06,42.17 62.09,25.85 62.13,0.5 62.17,0.5 62.21,0.5 62.25,0.5 62.29,0.5 62.32,0.5 62.36,0.5 62.4,0.5 62.44,0.5 62.48,0.5 62.52,18.49 62.55,37.84 62.59,48.77 62.63,54.32 62.67,56.85 62.71,57.83 62.74,58.28 62.78,58.55 62.82,58.53 62.86,58.68 62.9,58.81 62.94,58.86 62.97,59.03 63.01,59.03 63.05,59.2 63.09,59.18 63.13,59.19 63.16,59.23 63.2,59.34 63.24,59.3 63.28,59.39 63.32,59.27 63.36,59.39 63.39,59.37 63.43,59.37 63.47,59.47 63.51,59.48 63.64,59.55 63.76,59.63 63.89,59.7 64.02,59.63 64.14,59.6 64.27,59.66 64.4,59.75 64.53,59.78 64.65,59.77 64.78,59.63 64.91,59.84 65.42,59.77 65.93,59.65 66.44,59.81 66.95,59.88 67.46,59.75 67.96,59.82 68.47,59.73 68.98,59.71 69.49,59.83 70,59.66 70.51,59.86 71.02,59.79 71.53,59.69 72.04,59.7 72.55,59.82 73.06,59.88 73.57,59.74 74.08,59.9 74.59,59.69 75.09,59.87 75.6,59.77 76.11,59.69 76.62,59.74 77.13,59.78 77.64,59.86 78.15,59.88 78.66,59.7 79.17,59.8 79.68,59.83 80.19,59.75 80.7,59.88 81.21,59.74 81.72,59.67 82.22,59.68 82.73,59.83 83.24,59.8 83.75,59.9 84.26,59.89 84.77,59.89 85.28,59.68 85.79,59.85 86.3,59.83 86.81,59.82 87.32,59.84 87.83,59.88 88.34,59.82 88.84,59.75 89.35,59.79 89.86,59.71 90.37,59.8 90.88,59.66 91.39,59.69 91.9,59.73 92.41,59.84 92.92,59.82 93.43,59.72 93.94,59.79 94.45,59.64 94.96,59.66 95.47,59.85 95.97,59.68 96.48,59.69 96.99,59.71 97.5,59.63 98.01,59.64 98.52,59.54 99.03,59.42 99.54,59.34 99.67,59.38 99.79,59.23 99.92,59.25 100.05,59.15 100.18,59.07 100.3,58.85 100.43,58.84 100.56,58.44 100.69,58.09 100.81,57.51 100.94,56.54 101.07,55.54 101.19,54.36 101.32,52.97 101.45,51.69 101.58,50.89 101.7,50.65 101.83,51.1 101.96,52.02 102.09,53.21 102.21,54.61 102.34,55.65 102.47,56.42 102.6,57.1 102.72,57.72 102.85,57.83 102.98,57.91 103.1,57.95 103.23,57.77 103.36,57.34 103.49,56.71 103.61,55.82 103.74,54.64 103.87,53.12 104,51.47 104.12,50.02 104.25,48.58 104.38,48.17 104.51,48.48 104.63,49.64 104.76,51.17 104.89,53.05 105.01,54.56 105.14,55.92 105.27,56.84 105.4,57.65 105.52,58.06 105.65,58.5 105.78,58.71 105.91,58.84 106.03,59.19 106.16,59.1 106.29,59.16 106.42,59.23 106.54,59.33 106.67,59.41 106.8,59.35 106.92,59.58 107.05,59.61 107.56,59.49 108.07,59.6 108.58,59.7 109.09,59.78 109.6,59.7 110.11,59.82 110.62,59.69 111.13,59.74 111.64,59.75 112.14,59.79 112.65,59.69 113.16,59.79 113.67,59.7 114.18,59.73 114.69,59.88 115.2,59.87 115.71,59.85 116.22,59.66 116.73,59.69 117.24,59.72 117.75,59.85 118.26,59.86 118.77,59.8 119.27,59.83 119.78,59.86 120.29,59.68 120.8,59.68 121.31,59.87 121.82,59.67 122.33,59.71 122.84,59.67 123.35,59.66 123.86,59.85 124.37,59.73 124.49,59.68 124.62,59.68 124.75,59.8 124.88,59.87 125,59.75 125.13,59.84 125.26,59.74 125.39,59.74 125.51,59.75 125.64,59.76 125.77,59.71 125.9,59.7 126.02,59.56 126.15,59.48 126.28,59.16 126.4,59.08 126.53,58.96 126.66,58.96 126.79,58.91 126.91,59.11 127.04,59.17 127.17,59.36 127.3,59.55 127.42,59.63 127.55,59.66 127.68,59.54 127.8,59.61 127.93,59.7 128.06,59.64 128.19,59.6 128.31,59.79 128.44,59.81 128.57,59.64 128.7,59.65 128.82,59.72 128.95,59.5 129.08,59.57 129.21,59.34 129.33,59.23 129.46,59.18 129.59,58.81 129.71,58.64 129.84,58.66 129.97,58.73 130.1,58.97 130.22,59.12 130.35,59.29 130.48,59.32 130.61,59.64 130.73,59.58 130.86,59.68 130.99,59.66 131.12,59.59 131.24,59.71 131.37,59.64 131.5,59.62 131.62,59.77 131.75,59.77 131.88,59.65 132.01,59.76 132.13,59.71 132.26,59.72 132.39,59.82 132.52,59.75 133.02,59.84 133.53,59.77 134.04,59.73 134.55,59.75 135.06,59.65 135.19,59.58 135.32,59.7 135.44,59.67 135.57,59.68 135.7,59.49 135.83,59.64 135.95,59.55 136.08,59.48 136.21,59.31 136.34,59.04 136.46,58.74 136.59,58.22 136.72,57.73 136.84,56.97 136.97,56.52 137.1,56.05 137.23,56.09 137.35,56.34 137.48,56.99 137.61,57.44 137.74,58 137.86,58.69 137.99,58.94 138.12,59.28 138.25,59.46 138.37,59.5 138.5,59.55 138.63,59.51 138.75,59.51 138.88,59.71 139.01,59.75 139.14,59.74 139.26,59.74 139.39,59.68 139.52,59.66 139.65,59.62 139.77,59.71 140.28,59.76 140.79,59.86 141.3,59.87 141.81,59.75 142.32,59.68 142.83,59.85 143.34,59.84 143.85,59.67 144.36,59.77 144.87,59.83 145.38,59.68 145.88,59.89 146.39,59.9 146.9,59.84 147.41,59.69 147.92,59.69 148.43,59.76 148.94,59.68 149.45,59.76 149.96,59.67 150.47,59.91 150.98,59.87 151.49,59.69 152,59.89 152.5,59.72 153.01,59.72 153.52,59.83 154.03,59.9 154.54,59.7 155.05,59.67 155.56,59.76 156.07,59.68 156.58,59.82 157.09,59.88 157.6,59.71 158.11,59.69 158.62,59.75 159.13,59.89 159.63,59.69 160.14,59.89 160.65,59.74 161.16,59.76 161.67,59.7 162.18,59.83 162.31,59.83 162.44,59.74 162.56,59.62 162.69,59.8 162.82,59.57 162.95,59.66 163.07,59.52 163.2,59.64 163.33,59.57 163.45,59.42 163.58,59.11 163.71,58.83 163.84,58.6 163.96,58.06 164.09,57.64 164.22,57.14 164.35,56.93 164.47,56.94 164.6,57.26 164.73,57.69 164.85,58.23 164.98,58.67 165.11,59.04 165.24,59.13 165.36,59.37 165.49,59.53 165.62,59.47 165.75,59.6 165.87,59.61 166,59.78 166.13,59.58 166.26,59.68 166.38,59.69 166.51,59.78 166.64,59.69 166.76,59.66 166.89,59.69 167.02,59.74 167.53,59.87 168.04,59.84 168.55,59.72 169.06,59.79 169.57,59.83 170.08,59.86 170.58,59.77 171.09,59.76 171.6,59.85 172.11,59.77 172.62,59.73 173.13,59.78 173.64,59.9 174.15,59.71 174.66,59.78 175.17,59.83 175.68,59.79 176.19,59.72 176.7,59.67 177.21,59.84 177.71,59.82 178.22,59.67 178.73,59.74 179.24,59.86 179.75,59.82 180.26,59.8 180.77,59.71 181.28,59.84 181.79,59.78 182.3,59.83 182.81,59.85 183.32,59.72 183.83,59.84 184.33,59.72 184.84,59.89 185.35,59.67 185.86,59.84 186.37,59.61 186.5,59.66 186.63,59.71 186.75,59.71 186.88,59.65 187.01,59.56 187.14,59.56 187.26,59.53 187.39,59.57 187.52,59.49 187.65,59.26 187.77,58.9 187.9,58.79 188.03,58.32 188.15,57.97 188.28,57.72 188.41,57.52 188.54,57.77 188.66,57.86 188.79,58.27 188.92,58.59 189.05,58.95 189.17,59.2 189.3,59.38 189.43,59.47 189.56,59.52 189.68,59.62 189.81,59.59 189.94,59.7 190.06,59.72 190.19,59.6 190.32,59.63 190.45,59.69 190.57,59.57 190.7,59.7 190.83,59.61 190.96,59.65 191.08,59.52 191.21,59.61 191.34,59.48 191.46,59.43 191.59,59.29 191.72,59.12 191.85,58.91 191.97,58.47 192.1,58.15 192.23,57.58 192.36,57.29 192.48,57.24 192.61,57.18 192.74,57.64 192.87,57.92 192.99,58.44 193.12,58.9 193.25,58.97 193.37,59.3 193.5,59.33 193.63,59.62 193.76,59.63 193.88,59.69 194.01,59.7 194.14,59.56 194.27,59.58 194.39,59.73 194.52,59.83 194.65,59.81 194.78,59.78 194.9,59.79 195.03,59.68 195.16,59.81 195.67,59.71 196.18,59.67 196.68,59.77 197.19,59.74 197.7,59.7 198.21,59.77 198.72,59.88 199.23,59.77 199.74,59.78 200.25,59.84 200.76,59.8 201.27,59.7 201.78,59.89 202.29,59.78 202.8,59.86 203.31,59.77 203.81,59.87 204.32,59.77 204.83,59.73 205.34,59.72 205.85,59.9 206.36,59.81 206.87,59.69 207.38,59.77 207.89,59.73 208.4,59.69 208.91,59.72 209.42,59.69 209.93,59.82 210.44,59.71 210.94,59.81 211.45,59.81 211.96,59.83 212.47,59.78 212.98,59.72 213.49,59.86 214,59.72 214.51,59.73 214.64,59.76 214.76,59.73 214.89,59.82 215.02,59.81 215.15,59.78 215.27,59.76 215.4,59.64 215.53,59.56 215.66,59.54 215.78,59.33 215.91,59.21 216.04,59 216.16,58.84 216.29,58.59 216.42,58.54 216.55,58.24 216.67,58.29 216.8,58.25 216.93,58.41 217.06,58.44 217.18,58.77 217.31,58.87 217.44,59.03 217.57,59.14 217.69,59.46 217.82,59.55 217.95,59.51 218.07,59.6 218.2,59.61 218.33,59.56 218.46,59.59 218.58,59.68 218.71,59.65 218.84,59.74 218.97,59.66 219.09,59.67 219.22,59.79 219.35,59.81 219.86,59.72 220.37,59.86 220.88,59.72 221.39,59.75 221.89,59.84 222.4,59.68" fill="none" stroke="#f0a030" stroke-width="1.1" stroke-linejoin="round" />
<line x1="31.5" y1="148.4" x2="221.8" y2="148.4" stroke="#ff1493" stroke-width="1.7" />
<line x1="47.41" y1="148.4" x2="47.41" y2="147.2" stroke="#ff1493" stroke-width="1.6" />
<line x1="50.6" y1="148.4" x2="50.6" y2="146.8" stroke="#ff1493" stroke-width="1.6" />
<line x1="51.87" y1="148.4" x2="51.87" y2="147.2" stroke="#ff1493" stroke-width="1.6" />
<line x1="62.88" y1="148.4" x2="62.88" y2="139.8" stroke="#ff1493" stroke-width="1.6" />
<line x1="101.69" y1="148.4" x2="101.69" y2="145" stroke="#ff1493" stroke-width="1.6" />
<line x1="105.98" y1="148.4" x2="105.98" y2="145" stroke="#ff1493" stroke-width="1.6" />
<line x1="126.67" y1="148.4" x2="126.67" y2="147.6" stroke="#ff1493" stroke-width="1.6" />
<line x1="129.85" y1="148.4" x2="129.85" y2="147.4" stroke="#ff1493" stroke-width="1.6" />
<line x1="138.13" y1="148.4" x2="138.13" y2="146.9" stroke="#ff1493" stroke-width="1.6" />
<line x1="164.87" y1="148.4" x2="164.87" y2="147.2" stroke="#ff1493" stroke-width="1.6" />
<line x1="189.06" y1="148.4" x2="189.06" y2="147.2" stroke="#ff1493" stroke-width="1.6" />
<line x1="193.2" y1="148.4" x2="193.2" y2="147.2" stroke="#ff1493" stroke-width="1.6" />
<line x1="217.39" y1="148.4" x2="217.39" y2="147.6" stroke="#ff1493" stroke-width="1.6" />
<rect x="31.5" y="0.5" width="190.3" height="151.9" fill="none" stroke="#363636" stroke-width="1.2"/>
<line x1="47.41" y1="152.4" x2="47.41" y2="150.7" stroke="#363636" stroke-width="1" />
<line x1="63.33" y1="152.4" x2="63.33" y2="149.8" stroke="#363636" stroke-width="1" />
<line x1="79.25" y1="152.4" x2="79.25" y2="150.7" stroke="#363636" stroke-width="1" />
<line x1="95.16" y1="152.4" x2="95.16" y2="149.8" stroke="#363636" stroke-width="1" />
<line x1="111.07" y1="152.4" x2="111.07" y2="150.7" stroke="#363636" stroke-width="1" />
<line x1="126.99" y1="152.4" x2="126.99" y2="149.8" stroke="#363636" stroke-width="1" />
<line x1="142.91" y1="152.4" x2="142.91" y2="150.7" stroke="#363636" stroke-width="1" />
<line x1="158.82" y1="152.4" x2="158.82" y2="149.8" stroke="#363636" stroke-width="1" />
<line x1="174.73" y1="152.4" x2="174.73" y2="150.7" stroke="#363636" stroke-width="1" />
<line x1="190.65" y1="152.4" x2="190.65" y2="149.8" stroke="#363636" stroke-width="1" />
<line x1="206.56" y1="152.4" x2="206.56" y2="150.7" stroke="#363636" stroke-width="1" />
<text x="31.5" y="164.8" font-size="10.6" fill="#141414" text-anchor="middle" font-weight="normal" >20</text>
<text x="63.33" y="164.8" font-size="10.6" fill="#141414" text-anchor="middle" font-weight="normal" >30</text>
<text x="95.16" y="164.8" font-size="10.6" fill="#141414" text-anchor="middle" font-weight="normal" >40</text>
<text x="126.99" y="164.8" font-size="10.6" fill="#141414" text-anchor="middle" font-weight="normal" >50</text>
<text x="158.82" y="164.8" font-size="10.6" fill="#141414" text-anchor="middle" font-weight="normal" >60</text>
<text x="190.65" y="164.8" font-size="10.6" fill="#141414" text-anchor="middle" font-weight="normal" >70</text>
<text x="222.48" y="164.8" font-size="10.6" fill="#141414" text-anchor="middle" font-weight="normal" >80</text>
<text x="129.2" y="176.2" font-size="11.8" fill="#141414" text-anchor="middle" font-weight="normal" >2<tspan font-family="Liberation Serif" font-size="12.6">θ</tspan> (degree)</text>
<text x="27.7" y="70.5" font-size="11" fill="#141414" text-anchor="middle" font-weight="normal" transform="rotate(-90 27.7 70.5)" >intensity (a.u.)</text>
<text x="1" y="12.5" font-size="18" fill="#000" text-anchor="start" font-weight="bold" >a</text>
<text x="219.2" y="56.6" font-size="6.6" fill="#141414" text-anchor="end" font-weight="normal" >x=0.09</text>
<text x="219.2" y="74.8" font-size="6.6" fill="#141414" text-anchor="end" font-weight="normal" >x=0.07</text>
<text x="219.2" y="92.5" font-size="6.6" fill="#141414" text-anchor="end" font-weight="normal" >x=0.05</text>
<text x="219.2" y="112.7" font-size="6.6" fill="#141414" text-anchor="end" font-weight="normal" >x=0.03</text>
<text x="219.2" y="129.7" font-size="6.6" fill="#141414" text-anchor="end" font-weight="normal" >pure GeTe</text>
<text x="219.2" y="144.5" font-size="6.3" fill="#ff1493" text-anchor="end" font-weight="normal" >PDF# 47-1079</text>
<text x="74.6" y="18.3" font-size="11.2" fill="#141414" text-anchor="middle" font-weight="normal" transform="rotate(-90 74.6 18.3)" >(202)</text>
<text x="128.4" y="13.7" font-size="10.6" font-weight="bold" fill="#111">(GeTe)<tspan font-size="7.2" dy="2.4">1-x</tspan><tspan dy="-2.4">(CuBiS</tspan><tspan font-size="7.2" dy="2.4">2</tspan><tspan dy="-2.4">)</tspan><tspan font-size="7.2" dy="2.4">x</tspan></text>
<g fill="#141414"><circle cx="132.51" cy="26" r="1.42"/><circle cx="135.69" cy="26" r="1.42"/><circle cx="134.1" cy="24.35" r="1.42"/><polygon points="134.1,25.41 132.8,28.95 135.4,28.95"/></g>
<text x="139.8" y="28" font-size="10.6" fill="#141414" text-anchor="start" font-weight="normal" >Ge</text>
<polygon points="134.1,34.7 136.35,37.5 134.1,40.3 131.85,37.5" fill="#141414"/>
<text x="139.8" y="40" font-size="10.6" fill="#141414">CuBiS<tspan font-size="7.2" dy="2.6">2</tspan></text>
<g fill="#141414"><circle cx="53.33" cy="54.9" r="0.86"/><circle cx="55.27" cy="54.9" r="0.86"/><circle cx="54.3" cy="53.89" r="0.86"/><polygon points="54.3,54.54 53.51,56.7 55.09,56.7"/></g>
<polygon points="60.5,50.4 62,52.3 60.5,54.2 59,52.3" fill="#141414"/>
<g fill="#141414"><circle cx="53.33" cy="74.4" r="0.86"/><circle cx="55.27" cy="74.4" r="0.86"/><circle cx="54.3" cy="73.39" r="0.86"/><polygon points="54.3,74.04 53.51,76.2 55.09,76.2"/></g>
<path d="M260.89,139.71 262.4,139.8 263.92,139.79 265.43,139.84 266.94,139.73 268.45,139.73 269.97,139.8 271.48,139.79 272.99,139.73 274.5,139.79 276.02,139.74 277.53,139.8 279.04,139.69 280.55,139.71 282.07,139.82 283.58,139.73 285.09,139.71 286.6,139.79 288.12,139.76 289.63,139.68 291.14,139.75 292.65,139.76 294.17,139.68 295.68,139.75 297.19,139.66 298.7,139.69 300.22,139.65 301.73,139.66 303.24,139.78 304.75,139.68 306.27,139.77 307.78,139.68 309.29,139.7 310.8,139.73 312.32,139.69 313.83,139.59 315.34,139.65 316.85,139.65 318.37,139.56 319.88,139.53 321.39,139.63 322.9,139.55 324.42,139.47 325.93,139.48 327.44,139.4 328.95,139.44 330.47,139.34 331.98,139.2 333.49,139.21 335,138.97 336.52,138.83 336.88,138.74 337.24,138.8 337.61,138.64 337.97,138.65 338.33,138.51 338.7,138.49 339.06,138.44 339.42,138.33 339.78,138.22 340.15,138.11 340.51,137.98 340.87,137.87 341.24,137.64 341.6,137.53 341.96,137.3 342.33,137.19 342.69,136.96 343.05,136.55 343.41,136.26 343.78,136 344.14,135.59 344.5,135.05 344.87,134.66 345.23,134.13 345.59,133.42 345.96,132.72 346.32,132 346.68,131.28 347.04,130.39 347.41,129.64 347.77,128.96 348.13,128.5 348.5,128.13 348.86,127.94 349.22,127.98 349.59,128.08 349.95,128.38 350.31,128.8 350.67,129.09 351.04,129.43 351.4,129.95 351.76,130.32 352.13,130.83 352.49,131.36 352.85,131.98 353.22,132.61 353.58,133.23 353.94,133.92 354.3,134.36 354.67,134.86 355.03,135.37 355.39,135.82 355.76,136.08 356.12,136.47 356.48,136.69 356.85,136.97 357.21,137.19 357.57,137.44 357.93,137.59 358.3,137.7 358.66,137.89 359.02,137.94 359.39,138.05 359.75,138.24 360.11,138.26 360.48,138.38 360.84,138.38 362.35,138.71 363.86,138.82 365.38,138.86 366.89,139.03 368.4,138.98 369.91,138.96 371.43,138.93 372.94,138.85 374.45,138.77 375.96,138.72 377.48,138.43 377.84,138.38 378.2,138.35 378.56,138.29 378.93,138.18 379.29,138.16 379.65,137.97 380.02,137.88 380.38,137.77 380.74,137.59 381.11,137.45 381.47,137.27 381.83,137.17 382.19,136.86 382.56,136.71 382.92,136.37 383.28,136.13 383.65,135.78 384.01,135.34 384.37,134.98 384.74,134.43 385.1,133.84 385.46,133.11 385.82,132.45 386.19,131.63 386.55,130.81 386.91,129.99 387.28,129.08 387.64,128.09 388,127.43 388.37,126.87 388.73,126.41 389.09,126.16 389.45,126.3 389.82,126.42 390.18,126.81 390.54,127.16 390.91,127.56 391.27,128.02 391.63,128.37 392,129.03 392.36,129.55 392.72,130.18 393.08,130.92 393.45,131.67 393.81,132.29 394.17,133.04 394.54,133.72 394.9,134.25 395.26,134.78 395.63,135.21 395.99,135.74 396.35,135.99 396.71,136.39 397.08,136.67 397.44,136.83 397.8,137.22 398.17,137.3 398.53,137.6 398.89,137.76 399.26,137.9 399.62,138.02 399.98,138.07 400.34,138.19 400.71,138.27 401.07,138.45 402.58,138.61 404.1,138.84 405.61,139.12 407.12,139.22 408.63,139.29 410.15,139.41 411.66,139.4 413.17,139.49 414.68,139.47 416.2,139.58 417.71,139.47 419.22,139.55 420.73,139.6 422.25,139.65 423.76,139.61 425.27,139.66 426.78,139.72 428.3,139.64 429.81,139.62 431.32,139.6 432.83,139.74 434.35,139.69 435.86,139.68 437.37,139.71 438.88,139.65 440.4,139.67 441.91,139.67 443.42,139.68 444.93,139.78 446.45,139.69 447.96,139.67 449.47,139.79" fill="none" stroke="#b870d6" stroke-width="1.1" stroke-linejoin="round" />
<path d="M260.89,121.92 262.4,121.99 263.92,121.99 265.43,122.01 266.94,121.9 268.45,121.91 269.97,121.89 271.48,121.91 272.99,121.98 274.5,121.89 276.02,121.95 277.53,121.9 279.04,121.91 280.55,121.93 282.07,121.99 283.58,121.95 285.09,121.85 286.6,121.89 288.12,121.86 289.63,121.98 291.14,121.96 292.65,121.96 294.17,121.96 295.68,121.94 297.19,121.97 298.7,121.94 300.22,121.84 301.73,121.93 303.24,121.87 304.75,121.9 306.27,121.86 307.78,121.83 309.29,121.81 310.8,121.8 312.32,121.77 313.83,121.72 315.34,121.82 316.85,121.79 318.37,121.8 319.88,121.73 321.39,121.67 322.9,121.67 324.42,121.52 325.93,121.56 327.44,121.45 328.95,121.33 330.47,121.23 331.98,121.15 333.49,120.94 335,120.74 335.37,120.69 335.73,120.59 336.09,120.47 336.46,120.44 336.82,120.3 337.18,120.2 337.55,120.08 337.91,119.98 338.27,119.79 338.63,119.73 339,119.61 339.36,119.33 339.72,119.17 340.09,118.97 340.45,118.57 340.81,118.29 341.18,118.06 341.54,117.68 341.9,117.22 342.26,116.66 342.63,116.14 342.99,115.59 343.35,114.89 343.72,114.09 344.08,113.13 344.44,112.29 344.81,111.22 345.17,110.25 345.53,109.16 345.89,108.4 346.26,107.59 346.62,107.08 346.98,106.71 347.35,106.73 347.71,106.87 348.07,107.17 348.44,107.52 348.8,108.02 349.16,108.43 349.52,108.95 349.89,109.51 350.25,110.24 350.61,110.86 350.98,111.65 351.34,112.42 351.7,113.3 352.07,114.06 352.43,114.78 352.79,115.36 353.15,116.02 353.52,116.55 353.88,116.99 354.24,117.4 354.61,117.93 354.97,118.13 355.33,118.45 355.7,118.7 356.06,118.99 356.42,119.11 356.78,119.35 357.15,119.5 357.51,119.72 357.87,119.71 358.24,119.88 358.6,120.01 358.96,120.18 360.48,120.4 361.99,120.59 363.5,120.73 365.01,120.72 366.53,120.68 368.04,120.7 369.55,120.65 371.06,120.44 371.43,120.31 371.79,120.31 372.15,120.27 372.51,120.09 372.88,120.06 373.24,119.93 373.6,119.8 373.97,119.69 374.33,119.54 374.69,119.42 375.06,119.2 375.42,119.07 375.78,118.82 376.14,118.69 376.51,118.41 376.87,118.01 377.23,117.8 377.6,117.33 377.96,116.95 378.32,116.47 378.69,115.88 379.05,115.25 379.41,114.56 379.77,113.71 380.14,112.94 380.5,111.84 380.86,110.91 381.23,109.72 381.59,108.64 381.95,107.63 382.32,106.68 382.68,106 383.04,105.6 383.4,105.44 383.77,105.58 384.13,105.85 384.49,106.08 384.86,106.62 385.22,107.06 385.58,107.71 385.95,108.24 386.31,109 386.67,109.69 387.03,110.43 387.4,111.27 387.76,112.18 388.12,113.14 388.49,113.84 388.85,114.65 389.21,115.33 389.58,115.95 389.94,116.58 390.3,116.98 390.66,117.5 391.03,117.89 391.39,118.27 391.75,118.52 392.12,118.85 392.48,119.02 392.84,119.26 393.21,119.46 393.57,119.67 393.93,119.84 394.29,119.86 394.66,119.99 395.02,120.18 395.38,120.33 396.9,120.64 398.41,120.86 399.92,121.16 401.43,121.19 402.95,121.27 404.46,121.35 405.97,121.42 407.48,121.59 409,121.54 410.51,121.68 412.02,121.74 413.53,121.79 415.05,121.78 416.56,121.74 418.07,121.79 419.58,121.84 421.1,121.84 422.61,121.79 424.12,121.87 425.63,121.78 427.15,121.82 428.66,121.94 430.17,121.87 431.68,121.84 433.2,121.93 434.71,121.88 436.22,121.82 437.73,121.83 439.25,121.87 440.76,121.88 442.27,121.98 443.78,121.88 445.3,121.98 446.81,121.98 448.32,121.91 449.83,122.01" fill="none" stroke="#5f88e6" stroke-width="1.1" stroke-linejoin="round" />
<path d="M260.89,104.41 262.4,104.43 263.92,104.43 265.43,104.35 266.94,104.32 268.45,104.38 269.97,104.36 271.48,104.44 272.99,104.42 274.5,104.4 276.02,104.39 277.53,104.4 279.04,104.31 280.55,104.35 282.07,104.3 283.58,104.42 285.09,104.27 286.6,104.39 288.12,104.26 289.63,104.35 291.14,104.29 292.65,104.29 294.17,104.35 295.68,104.21 297.19,104.21 298.7,104.33 300.22,104.25 301.73,104.17 303.24,104.3 304.75,104.28 306.27,104.12 307.78,104.15 309.29,104.08 310.8,104.09 312.32,104.11 313.83,104 315.34,104.06 316.85,103.91 318.37,103.89 319.88,103.94 321.39,103.81 322.9,103.75 324.42,103.69 325.93,103.58 327.44,103.45 328.95,103.25 330.47,103.2 331.98,103.02 333.49,102.76 335,102.36 336.52,101.85 336.88,101.72 337.24,101.63 337.61,101.47 337.97,101.21 338.33,101.05 338.7,100.88 339.06,100.69 339.42,100.51 339.78,100.2 340.15,99.85 340.51,99.68 340.87,99.28 341.24,98.94 341.6,98.49 341.96,98.08 342.33,97.6 342.69,97.13 343.05,96.44 343.41,95.87 343.78,95.12 344.14,94.44 344.5,93.51 344.87,92.67 345.23,91.74 345.59,90.8 345.96,89.7 346.32,88.75 346.68,87.72 347.04,86.81 347.41,86.01 347.77,85.4 348.13,84.79 348.5,84.51 348.86,84.22 349.22,84.34 349.59,84.41 349.95,84.67 350.31,85.16 350.67,85.69 351.04,86.13 351.4,86.83 351.76,87.64 352.13,88.36 352.49,89.17 352.85,89.99 353.22,90.86 353.58,91.81 353.94,92.69 354.3,93.49 354.67,94.16 355.03,94.78 355.39,95.47 355.76,96.14 356.12,96.69 356.48,97.15 356.85,97.53 357.21,97.98 357.57,98.33 357.93,98.68 358.3,98.91 358.66,99.29 359.02,99.51 359.39,99.61 359.75,99.82 360.11,100.08 360.48,100.13 361.99,100.67 363.5,100.81 365.01,100.85 366.53,100.67 368.04,100.19 368.4,100.07 368.76,99.91 369.13,99.81 369.49,99.61 369.85,99.31 370.22,99.19 370.58,98.85 370.94,98.53 371.3,98.23 371.67,97.95 372.03,97.48 372.39,97.04 372.76,96.59 373.12,96.05 373.48,95.4 373.85,94.68 374.21,93.97 374.57,93.21 374.93,92.31 375.3,91.33 375.66,90.28 376.02,89.22 376.39,88.18 376.75,87.04 377.11,85.87 377.48,84.96 377.84,84.07 378.2,83.27 378.56,82.69 378.93,82.29 379.29,82.03 379.65,82.06 380.02,82.17 380.38,82.45 380.74,82.94 381.11,83.5 381.47,84.26 381.83,84.97 382.19,85.78 382.56,86.68 382.92,87.55 383.28,88.59 383.65,89.61 384.01,90.54 384.37,91.48 384.74,92.42 385.1,93.28 385.46,94.16 385.82,94.83 386.19,95.53 386.55,96.21 386.91,96.86 387.28,97.41 387.64,97.88 388,98.38 388.37,98.69 388.73,99.01 389.09,99.43 389.45,99.73 389.82,99.97 390.18,100.31 390.54,100.5 390.91,100.7 392.42,101.46 393.93,102.11 395.44,102.37 396.96,102.74 398.47,102.97 399.98,103.15 401.49,103.35 403.01,103.44 404.52,103.66 406.03,103.69 407.54,103.8 409.06,103.78 410.57,103.89 412.08,103.96 413.59,104.04 415.11,103.98 416.62,104.05 418.13,104.15 419.64,104.17 421.16,104.1 422.67,104.17 424.18,104.23 425.69,104.19 427.21,104.25 428.72,104.26 430.23,104.33 431.74,104.27 433.26,104.3 434.77,104.26 436.28,104.33 437.79,104.28 439.31,104.31 440.82,104.3 442.33,104.3 443.84,104.28 445.36,104.3 446.87,104.36 448.38,104.32 449.89,104.29" fill="none" stroke="#44b044" stroke-width="1.1" stroke-linejoin="round" />
<path d="M260.89,86.56 262.4,86.57 263.92,86.63 265.43,86.55 266.94,86.55 268.45,86.56 269.97,86.49 271.48,86.54 272.99,86.55 274.5,86.57 276.02,86.45 277.53,86.48 279.04,86.44 280.55,86.54 282.07,86.52 283.58,86.4 285.09,86.54 286.6,86.53 288.12,86.47 289.63,86.46 291.14,86.37 292.65,86.33 294.17,86.4 295.68,86.31 297.19,86.32 298.7,86.31 300.22,86.26 301.73,86.31 303.24,86.28 304.75,86.32 306.27,86.25 307.78,86.24 309.29,86.19 310.8,86.18 312.32,86.11 313.83,86.04 315.34,86.11 316.85,86.06 318.37,85.97 319.88,85.89 321.39,85.75 322.9,85.66 324.42,85.57 325.93,85.42 327.44,85.4 328.95,85.19 330.47,85.08 331.98,84.79 333.49,84.61 335,84.27 336.52,83.72 338.03,83.23 339.54,82.67 339.91,82.41 340.27,82.29 340.63,81.99 340.99,81.7 341.36,81.54 341.72,81.3 342.08,80.94 342.45,80.61 342.81,80.32 343.17,80.08 343.54,79.68 343.9,79.18 344.26,78.78 344.62,78.3 344.99,77.82 345.35,77.44 345.71,76.81 346.08,76.31 346.44,75.71 346.8,75.07 347.17,74.55 347.53,73.83 347.89,73.3 348.25,72.6 348.62,72.07 348.98,71.48 349.34,70.98 349.71,70.65 350.07,70.24 350.43,69.85 350.8,69.72 351.16,69.47 351.52,69.44 351.88,69.54 352.25,69.61 352.61,69.7 352.97,70.09 353.34,70.26 353.7,70.63 354.06,71.11 354.43,71.47 354.79,71.93 355.15,72.38 355.51,72.88 355.88,73.46 356.24,73.9 356.6,74.45 356.97,74.88 357.33,75.34 357.69,75.85 358.06,76.18 358.42,76.56 358.78,76.95 359.14,77.16 359.51,77.43 359.87,77.81 360.23,78.01 360.6,78.11 360.96,78.27 361.32,78.49 361.69,78.63 362.05,78.6 362.41,78.77 362.77,78.79 363.14,78.74 363.5,78.69 363.86,78.59 364.23,78.5 364.59,78.54 364.95,78.29 365.32,78.2 365.68,77.94 366.04,77.81 366.4,77.52 366.77,77.18 367.13,76.84 367.49,76.57 367.86,76.08 368.22,75.68 368.58,75.27 368.95,74.81 369.31,74.23 369.67,73.61 370.03,73.11 370.4,72.36 370.76,71.68 371.12,71.05 371.49,70.4 371.85,69.68 372.21,69.05 372.58,68.47 372.94,67.94 373.3,67.36 373.66,66.98 374.03,66.72 374.39,66.5 374.75,66.31 375.12,66.27 375.48,66.32 375.84,66.41 376.21,66.65 376.57,66.99 376.93,67.55 377.29,68 377.66,68.59 378.02,69.03 378.38,69.77 378.75,70.41 379.11,71.14 379.47,71.77 379.84,72.58 380.2,73.13 380.56,73.89 380.92,74.58 381.29,75.25 381.65,75.84 382.01,76.42 382.38,77 382.74,77.54 383.1,77.95 383.47,78.47 383.83,78.94 384.19,79.35 384.55,79.66 384.92,80.08 385.28,80.43 385.64,80.69 386.01,80.99 386.37,81.23 387.88,82.23 389.39,82.97 390.91,83.46 392.42,84 393.93,84.42 395.44,84.7 396.96,84.92 398.47,85.06 399.98,85.29 401.49,85.41 403.01,85.51 404.52,85.68 406.03,85.65 407.54,85.83 409.06,85.79 410.57,85.94 412.08,85.98 413.59,85.99 415.11,86.11 416.62,86.12 418.13,86.17 419.64,86.25 421.16,86.18 422.67,86.17 424.18,86.24 425.69,86.32 427.21,86.27 428.72,86.28 430.23,86.42 431.74,86.39 433.26,86.37 434.77,86.46 436.28,86.38 437.79,86.45 439.31,86.39 440.82,86.44 442.33,86.51 443.84,86.53 445.36,86.54 446.87,86.47 448.38,86.51 449.89,86.47" fill="none" stroke="#ee2222" stroke-width="1.1" stroke-linejoin="round" />
<path d="M260.89,68.38 262.4,68.36 263.92,68.38 265.43,68.31 266.94,68.41 268.45,68.4 269.97,68.37 271.48,68.29 272.99,68.34 274.5,68.3 276.02,68.28 277.53,68.39 279.04,68.39 280.55,68.23 282.07,68.35 283.58,68.3 285.09,68.26 286.6,68.23 288.12,68.28 289.63,68.24 291.14,68.26 292.65,68.24 294.17,68.15 295.68,68.23 297.19,68.25 298.7,68.23 300.22,68.16 301.73,68.05 303.24,68.02 304.75,68.02 306.27,68.12 307.78,67.99 309.29,67.97 310.8,68.02 312.32,67.88 313.83,67.88 315.34,67.81 316.85,67.7 318.37,67.72 319.88,67.69 321.39,67.5 322.9,67.42 324.42,67.35 325.93,67.16 327.44,67.09 328.95,66.96 330.47,66.72 331.98,66.44 333.49,66.17 335,65.64 336.52,65.18 338.03,64.45 338.39,64.28 338.76,63.99 339.12,63.86 339.48,63.51 339.84,63.25 340.21,63.06 340.57,62.77 340.93,62.36 341.3,61.99 341.66,61.57 342.02,61.15 342.39,60.74 342.75,60.18 343.11,59.63 343.47,59.11 343.84,58.45 344.2,57.87 344.56,57.2 344.93,56.46 345.29,55.64 345.65,54.83 346.02,54.03 346.38,53.15 346.74,52.46 347.1,51.63 347.47,50.92 347.83,50.23 348.19,49.74 348.56,49.32 348.92,48.96 349.28,48.83 349.65,48.71 350.01,48.67 350.37,48.86 350.73,49.16 351.1,49.43 351.46,49.85 351.82,50.25 352.19,50.85 352.55,51.44 352.91,52.05 353.28,52.71 353.64,53.4 354,54.06 354.36,54.71 354.73,55.29 355.09,55.95 355.45,56.62 355.82,57.08 356.18,57.52 356.54,57.98 356.91,58.49 357.27,58.8 357.63,59.15 357.99,59.45 358.36,59.77 358.72,60.09 359.08,60.2 359.45,60.36 359.81,60.49 360.17,60.6 360.54,60.65 360.9,60.74 361.26,60.77 361.62,60.72 361.99,60.62 362.35,60.58 362.71,60.51 363.08,60.24 363.44,60.08 363.8,59.93 364.17,59.7 364.53,59.41 364.89,59.08 365.25,58.75 365.62,58.29 365.98,57.89 366.34,57.41 366.71,56.77 367.07,56.23 367.43,55.55 367.8,54.86 368.16,53.95 368.52,53.26 368.88,52.36 369.25,51.48 369.61,50.54 369.97,49.47 370.34,48.57 370.7,47.56 371.06,46.75 371.43,46 371.79,45.18 372.15,44.63 372.51,44.15 372.88,43.89 373.24,43.77 373.6,43.78 373.97,44.1 374.33,44.39 374.69,44.75 375.06,45.34 375.42,45.97 375.78,46.67 376.14,47.45 376.51,48.34 376.87,49.22 377.23,50.11 377.6,51.06 377.96,52.05 378.32,52.98 378.69,53.82 379.05,54.75 379.41,55.63 379.77,56.42 380.14,57.13 380.5,57.74 380.86,58.45 381.23,59 381.59,59.56 381.95,60.12 382.32,60.63 382.68,61.13 383.04,61.53 383.4,61.86 383.77,62.28 384.13,62.58 384.49,62.89 384.86,63.13 386.37,64.15 387.88,64.87 389.39,65.5 390.91,65.91 392.42,66.25 393.93,66.54 395.44,66.78 396.96,67 398.47,67.17 399.98,67.32 401.49,67.37 403.01,67.53 404.52,67.65 406.03,67.73 407.54,67.75 409.06,67.71 410.57,67.88 412.08,67.93 413.59,67.84 415.11,67.93 416.62,67.96 418.13,68.06 419.64,68.07 421.16,68.04 422.67,68.05 424.18,68.07 425.69,68.07 427.21,68.2 428.72,68.24 430.23,68.14 431.74,68.24 433.26,68.29 434.77,68.18 436.28,68.25 437.79,68.24 439.31,68.34 440.82,68.33 442.33,68.2 443.84,68.24 445.36,68.35 446.87,68.32 448.38,68.32 449.89,68.37" fill="none" stroke="#f0a030" stroke-width="1.1" stroke-linejoin="round" />
<rect x="260.8" y="1" width="189.5" height="151.9" fill="none" stroke="#363636" stroke-width="1.2"/>
<line x1="286" y1="152.9" x2="286" y2="150.3" stroke="#363636" stroke-width="1" />
<line x1="316.25" y1="152.9" x2="316.25" y2="151.2" stroke="#363636" stroke-width="1" />
<line x1="346.5" y1="152.9" x2="346.5" y2="150.3" stroke="#363636" stroke-width="1" />
<line x1="376.75" y1="152.9" x2="376.75" y2="151.2" stroke="#363636" stroke-width="1" />
<line x1="407" y1="152.9" x2="407" y2="150.3" stroke="#363636" stroke-width="1" />
<line x1="437.25" y1="152.9" x2="437.25" y2="151.2" stroke="#363636" stroke-width="1" />
<text x="286" y="164.8" font-size="10.6" fill="#141414" text-anchor="middle" font-weight="normal" >40</text>
<text x="346.5" y="164.8" font-size="10.6" fill="#141414" text-anchor="middle" font-weight="normal" >42</text>
<text x="407" y="164.8" font-size="10.6" fill="#141414" text-anchor="middle" font-weight="normal" >44</text>
<text x="358" y="176.3" font-size="11.8" fill="#141414" text-anchor="middle" font-weight="normal" >2<tspan font-family="Liberation Serif" font-size="12.6">θ</tspan> (degree)</text>
<text x="256.2" y="76.7" font-size="10.9" fill="#141414" text-anchor="middle" font-weight="normal" transform="rotate(-90 256.2 76.7)" >intensity (a.u.)</text>
<text x="238.5" y="14" font-size="18" fill="#000" text-anchor="start" font-weight="bold" >b</text>
<text x="356.8" y="13.4" font-size="10.6" font-weight="bold" fill="#111">(GeTe)<tspan font-size="7.2" dy="2.4">1-x</tspan><tspan dy="-2.4">(CuBiS</tspan><tspan font-size="7.2" dy="2.4">2</tspan><tspan dy="-2.4">)</tspan><tspan font-size="7.2" dy="2.4">x</tspan></text>
<text x="349.2" y="35" font-size="10.6" fill="#141414" text-anchor="middle" font-weight="normal" transform="rotate(-90 349.2 35)" >(024)</text>
<text x="387" y="34.6" font-size="10.6" fill="#141414" text-anchor="middle" font-weight="normal" transform="rotate(-90 387 34.6)" >(220)</text>
<text x="446.6" y="62.4" font-size="6.6" fill="#141414" text-anchor="end" font-weight="normal" >x=0.09</text>
<text x="446.6" y="81.8" font-size="6.6" fill="#141414" text-anchor="end" font-weight="normal" >x=0.07</text>
<text x="446.6" y="99" font-size="6.6" fill="#141414" text-anchor="end" font-weight="normal" >x=0.05</text>
<text x="446.6" y="117" font-size="6.6" fill="#141414" text-anchor="end" font-weight="normal" >x=0.03</text>
<text x="446.6" y="134.4" font-size="6.6" fill="#141414" text-anchor="end" font-weight="normal" >pure GeTe</text>
<path d="M490.9,113.19 491.37,113.19 491.84,113.19 492.31,113.19 492.78,113.19 493.25,113.19 493.72,113.19 494.19,113.18 494.66,113.18 495.13,113.18 495.59,113.18 496.06,113.18 496.53,113.18 497,113.18 497.47,113.17 497.94,113.17 498.41,113.17 498.88,113.17 499.35,113.16 499.82,113.16 500.29,113.16 500.76,113.15 501.23,113.14 501.7,113.14 502.17,113.13 502.64,113.11 503.11,113.09 503.58,113.07 503.7,113.06 503.83,113.05 503.95,113.04 504.08,113.03 504.2,113.02 504.33,113 504.45,112.99 504.58,112.97 504.7,112.95 504.83,112.92 504.95,112.89 505.08,112.86 505.2,112.82 505.33,112.76 505.45,112.7 505.58,112.62 505.7,112.51 505.83,112.36 505.96,112.17 506.08,111.92 506.21,111.59 506.33,111.22 506.46,110.9 506.58,110.79 506.71,110.94 506.83,111.21 506.96,111.47 507.08,111.66 507.21,111.76 507.33,111.79 507.46,111.75 507.58,111.64 507.71,111.46 507.83,111.2 507.96,110.84 508.08,110.34 508.21,109.67 508.33,108.79 508.46,107.72" fill="none" stroke="#1c1c1c" stroke-width="2.6" stroke-linejoin="round" opacity="0.9"/>
<path d="M509.09,107.19 509.21,108.34 509.34,109.34 509.46,110.14 509.59,110.75 509.71,111.21 509.84,111.56 509.96,111.83 510.09,112.05 510.21,112.21 510.34,112.35 510.46,112.46 510.59,112.55 510.71,112.62 510.84,112.69 510.96,112.74 511.09,112.78 511.21,112.82 511.34,112.86 511.46,112.88 511.59,112.91 511.71,112.93 511.84,112.95 511.96,112.97 512.43,113.02 512.9,113.06 513.37,113.08 513.84,113.1 514.31,113.12 514.78,113.13 515.25,113.14 515.72,113.14 516.19,113.15 516.66,113.16 517.13,113.16 517.6,113.16 518.07,113.16 518.54,113.11 518.66,113.08 518.79,113.02 518.91,112.92 519.04,112.78 519.16,112.56 519.29,112.25 519.41,111.81 519.54,111.22 519.66,110.43 519.79,109.41 519.92,108.14" fill="none" stroke="#1c1c1c" stroke-width="2.6" stroke-linejoin="round" opacity="0.9"/>
<path d="M522.64,107.03 522.76,108.49 522.89,109.69 523.01,110.65 523.14,111.39 523.26,111.94 523.39,112.35 523.51,112.63 523.64,112.83 523.76,112.96 523.89,113.05 524.02,113.1 524.14,113.14 524.27,113.16 524.39,113.17 524.52,113.17 524.99,113.18 525.46,113.18 525.92,113.18 526.39,113.18 526.86,113.18 527.33,113.18 527.8,113.18 528.27,113.18 528.74,113.18 529.21,113.18 529.68,113.18 530.15,113.18 530.62,113.18 531.09,113.18 531.56,113.18 532.03,113.18 532.5,113.18 532.97,113.18 533.44,113.18 533.91,113.18 534.38,113.18 534.85,113.18 535.31,113.18 535.78,113.18 536.25,113.18 536.72,113.18 537.19,113.18 537.66,113.18 538.13,113.18 538.6,113.18 539.07,113.18 539.54,113.18 540.01,113.18 540.48,113.18 540.95,113.17 541.42,113.17 541.89,113.17 542.36,113.17 542.83,113.17 543.3,113.17 543.77,113.17 544.24,113.17 544.7,113.16 545.17,113.16 545.64,113.16 546.11,113.16 546.58,113.16 547.05,113.15 547.52,113.15 547.99,113.15 548.46,113.14 548.93,113.14 549.4,113.14 549.87,113.13 550.34,113.13 550.81,113.12 551.28,113.11 551.75,113.1 552.22,113.09 552.69,113.08 553.16,113.07 553.63,113.05 554.09,113.04 554.56,113.01 555.03,112.98 555.5,112.95 555.97,112.9 556.44,112.84 556.91,112.76 557.38,112.65 557.85,112.47 557.98,112.41 558.1,112.34 558.23,112.27 558.35,112.18 558.48,112.07 558.6,111.95 558.73,111.8 558.85,111.63 558.98,111.42 559.1,111.17 559.23,110.86 559.35,110.48 559.48,109.99 559.6,109.37 559.73,108.57 559.85,107.54" fill="none" stroke="#1c1c1c" stroke-width="2.6" stroke-linejoin="round" opacity="0.9"/>
<path d="M561.36,107.62 561.48,108.2 561.61,108.58 561.73,108.76 561.86,108.79 561.98,108.66 562.11,108.36 562.23,107.86 562.36,107.13" fill="none" stroke="#1c1c1c" stroke-width="2.6" stroke-linejoin="round" opacity="0.9"/>
<path d="M563.99,107.39 564.11,108.43 564.24,109.23 564.36,109.85 564.49,110.35 564.61,110.74 564.74,111.06 564.86,111.32 564.99,111.54 565.11,111.72 565.24,111.87 565.36,112 565.49,112.11 565.61,112.2 565.74,112.29 565.86,112.36 565.99,112.43 566.11,112.48 566.24,112.53 566.36,112.58 566.83,112.71 567.3,112.8 567.77,112.87 568.24,112.92 568.71,112.96 569.18,112.99 569.65,113.02 570.12,113.04 570.59,113.05 571.06,113.07 571.53,113.08 572,113.09 572.47,113.1 572.94,113.1 573.41,113.11 573.88,113.12 574.35,113.12 574.82,113.12 575.28,113.13 575.75,113.13 576.22,113.13 576.69,113.13 577.16,113.13 577.63,113.13 578.1,113.13 578.57,113.13 579.04,113.13 579.51,113.12 579.98,113.12 580.45,113.11 580.92,113.1 581.39,113.09 581.51,113.08 581.64,113.08 581.76,113.07 581.89,113.06 582.01,113.05 582.14,113.04 582.26,113.03 582.39,113.02 582.52,113 582.64,112.98 582.77,112.95 582.89,112.92 583.02,112.89 583.14,112.84 583.27,112.79 583.39,112.72 583.52,112.63 583.64,112.52 583.77,112.39 583.89,112.26 584.02,112.14 584.14,112.08 584.27,112.09 584.39,112.17 584.52,112.29 584.64,112.41 584.77,112.51 584.89,112.59 585.02,112.66 585.14,112.7 585.27,112.73 585.39,112.75 585.52,112.75 585.65,112.75 585.77,112.73 585.9,112.7 586.02,112.66 586.15,112.6 586.27,112.52 586.4,112.42 586.52,112.29 586.65,112.13 586.77,111.92 586.9,111.68 587.02,111.43 587.15,111.21 587.27,111.1 587.4,111.14 587.52,111.32 587.65,111.56 587.77,111.82 587.9,112.05 588.02,112.24 588.15,112.39 588.27,112.51 588.4,112.6 588.52,112.68 588.65,112.74 588.78,112.79 588.9,112.82 589.03,112.85 589.15,112.88 589.28,112.9 589.4,112.92 589.53,112.93 589.65,112.94 589.78,112.95 589.9,112.95 590.03,112.96 590.15,112.96 590.28,112.96 590.4,112.96 590.53,112.96 591,112.95 591.47,112.91 591.94,112.85 592.06,112.83 592.19,112.8 592.31,112.77 592.44,112.74 592.56,112.7 592.69,112.65 592.81,112.6 592.94,112.54 593.06,112.47 593.19,112.38 593.31,112.28 593.44,112.15 593.56,112 593.69,111.82 593.81,111.6 593.94,111.32 594.06,110.97 594.19,110.55 594.32,110.03 594.44,109.41 594.57,108.72 594.69,108.03 594.82,107.46 594.94,107.18 595.07,107.28 595.19,107.72 595.32,108.37 595.44,109.08 595.57,109.74 595.69,110.31 595.82,110.78 595.94,111.16 596.07,111.47 596.19,111.73 596.32,111.93 596.44,112.1 596.57,112.23 596.69,112.35 596.82,112.44 596.94,112.52 597.07,112.59 597.19,112.65 597.32,112.7 597.45,112.75 597.57,112.78 597.7,112.82 597.82,112.85 597.95,112.87 598.07,112.9 598.2,112.92 598.67,112.98 599.14,113.02 599.6,113.05 600.07,113.07 600.54,113.09 601.01,113.1 601.48,113.12 601.95,113.12 602.42,113.13 602.89,113.14 603.36,113.14 603.83,113.15 604.3,113.15 604.77,113.15 605.24,113.16 605.71,113.16 606.18,113.16 606.65,113.16 607.12,113.16 607.59,113.16 608.06,113.16 608.53,113.16 608.99,113.16 609.46,113.16 609.93,113.16 610.4,113.16 610.87,113.16 611.34,113.16 611.81,113.16 612.28,113.16 612.75,113.16 613.22,113.16 613.69,113.16 614.16,113.15 614.63,113.15 615.1,113.14 615.57,113.14 616.04,113.13 616.51,113.12 616.98,113.11 617.45,113.1 617.92,113.08 618.38,113.05 618.85,113.01 619.32,112.95 619.45,112.93 619.57,112.91 619.7,112.88 619.82,112.85 619.95,112.82 620.08,112.78 620.2,112.73 620.33,112.68 620.45,112.61 620.58,112.53 620.7,112.44 620.83,112.33 620.95,112.19 621.08,112.02 621.2,111.81 621.33,111.55 621.45,111.22 621.58,110.83 621.7,110.37 621.83,109.87 621.95,109.39 622.08,109.02 622.2,108.89 622.33,109.02 622.45,109.39 622.58,109.87 622.7,110.37 622.83,110.83 622.95,111.22 623.08,111.55 623.21,111.81 623.33,112.02 623.46,112.19 623.58,112.33 623.71,112.44 623.83,112.53 623.96,112.61 624.08,112.68 624.21,112.73 624.33,112.78 624.46,112.82 624.58,112.85 624.71,112.88 624.83,112.91 624.96,112.93 625.08,112.95 625.21,112.97 625.33,112.99 625.46,113 625.93,113.04 626.4,113.07 626.87,113.09 627.34,113.11 627.81,113.12 628.28,113.13 628.75,113.14 629.21,113.14 629.68,113.15 630.15,113.15 630.62,113.15 631.09,113.16 631.56,113.16 632.03,113.16 632.5,113.16 632.97,113.16 633.44,113.16 633.91,113.16 634.38,113.16 634.85,113.16 635.32,113.16 635.79,113.16 636.26,113.16 636.73,113.16 637.2,113.16 637.67,113.15 638.14,113.15 638.6,113.15 639.07,113.14 639.54,113.14 640.01,113.13 640.48,113.12 640.95,113.11 641.42,113.1 641.89,113.08 642.36,113.06 642.83,113.02 643.3,112.97 643.42,112.96 643.55,112.94 643.68,112.91 643.8,112.89 643.93,112.86 644.05,112.83 644.18,112.79 644.3,112.75 644.43,112.69 644.55,112.63 644.68,112.56 644.8,112.47 644.93,112.36 645.05,112.23 645.18,112.07 645.3,111.87 645.43,111.62 645.55,111.32 645.68,110.97 645.8,110.57 645.93,110.17 646.05,109.85 646.18,109.68 646.3,109.73 646.43,109.97 646.55,110.33 646.68,110.71 646.81,111.07 646.93,111.38 647.06,111.63 647.18,111.83 647.31,111.99 647.43,112.11 647.56,112.2 647.68,112.26 647.81,112.3 647.93,112.32 648.06,112.32 648.18,112.31 648.31,112.27 648.43,112.21 648.56,112.13 648.68,112.02 648.81,111.88 648.93,111.69 649.06,111.45 649.18,111.16 649.31,110.81 649.43,110.42 649.56,110.05 649.68,109.77 649.81,109.67 649.94,109.79 650.06,110.08 650.19,110.47 650.31,110.87 650.44,111.24 650.56,111.56 650.69,111.81 650.81,112.02 650.94,112.2 651.06,112.33 651.19,112.45 651.31,112.54 651.44,112.62 651.56,112.68 651.69,112.73 651.81,112.78 651.94,112.82 652.06,112.85 652.19,112.88 652.31,112.91 652.44,112.93 652.56,112.95 652.69,112.97 652.81,112.98 652.94,113 653.41,113.04 653.88,113.07 654.35,113.09 654.82,113.1 655.29,113.12 655.76,113.13 656.23,113.13 656.7,113.14 657.17,113.15 657.64,113.15 658.1,113.15 658.57,113.16 659.04,113.16 659.51,113.16 659.98,113.16 660.45,113.16 660.92,113.16 661.39,113.16 661.86,113.16 662.33,113.16 662.8,113.16 663.27,113.16 663.74,113.16 664.21,113.16 664.68,113.16 665.15,113.16 665.62,113.15 666.09,113.15 666.56,113.15 667.03,113.14 667.49,113.13 667.96,113.12 668.43,113.11 668.9,113.1 669.37,113.08 669.84,113.06 670.31,113.02 670.78,112.97 670.91,112.95 671.03,112.93 671.16,112.91 671.28,112.88 671.41,112.86 671.53,112.82 671.66,112.79 671.78,112.75 671.91,112.7 672.03,112.64 672.16,112.58 672.28,112.5 672.41,112.42 672.53,112.31 672.66,112.19 672.78,112.05 672.91,111.89 673.03,111.71 673.16,111.5 673.29,111.28 673.41,111.06 673.54,110.85 673.66,110.69 673.79,110.6 673.91,110.6 674.04,110.69 674.16,110.85 674.29,111.06 674.41,111.28 674.54,111.5 674.66,111.71 674.79,111.89 674.91,112.06 675.04,112.2 675.16,112.32 675.29,112.42 675.41,112.51 675.54,112.58 675.66,112.64 675.79,112.7 675.91,112.75 676.04,112.79 676.16,112.83 676.29,112.86 676.42,112.89 676.54,112.91 676.67,112.93 676.79,112.95 676.92,112.97 677.04,112.99 677.51,113.03 677.98,113.07 678.45,113.09" fill="none" stroke="#1c1c1c" stroke-width="2.6" stroke-linejoin="round" opacity="0.9"/>
<g fill="#1a1a1a"><circle cx="490.8" cy="113.67" r="0.85"/><circle cx="491.78" cy="112.77" r="0.85"/><circle cx="492.26" cy="112.57" r="0.85"/><circle cx="493.03" cy="113.28" r="0.85"/><circle cx="493.73" cy="112.62" r="0.85"/><circle cx="494.55" cy="113.18" r="0.85"/><circle cx="495.31" cy="112.43" r="0.85"/><circle cx="495.91" cy="112.66" r="0.85"/><circle cx="496.61" cy="113.19" r="0.85"/><circle cx="496.99" cy="112.67" r="0.85"/><circle cx="497.95" cy="112.51" r="0.85"/><circle cx="498.3" cy="113.22" r="0.85"/><circle cx="498.91" cy="112.67" r="0.85"/><circle cx="499.89" cy="112.68" r="0.85"/><circle cx="500.66" cy="113.05" r="0.85"/><circle cx="501.43" cy="112.47" r="0.85"/><circle cx="502.06" cy="113.9" r="0.85"/><circle cx="502.82" cy="113.5" r="0.85"/><circle cx="503.27" cy="112.44" r="0.85"/><circle cx="504.15" cy="112.37" r="0.85"/><circle cx="504.44" cy="113.02" r="0.85"/><circle cx="505.53" cy="112.66" r="0.85"/><circle cx="505.82" cy="112.07" r="0.85"/><circle cx="506.47" cy="111.7" r="0.85"/><circle cx="507.71" cy="112.31" r="0.85"/><circle cx="508.38" cy="110.59" r="0.85"/><circle cx="508.64" cy="105.56" r="0.85"/><circle cx="509.64" cy="110.26" r="0.85"/><circle cx="510.11" cy="112.61" r="0.85"/><circle cx="510.59" cy="113.41" r="0.85"/><circle cx="511.28" cy="112.9" r="0.85"/><circle cx="512.54" cy="112.78" r="0.85"/><circle cx="513.23" cy="112.45" r="0.85"/><circle cx="513.74" cy="113.74" r="0.85"/><circle cx="514.3" cy="112.41" r="0.85"/><circle cx="514.76" cy="113.44" r="0.85"/><circle cx="515.44" cy="112.82" r="0.85"/><circle cx="516.63" cy="113.7" r="0.85"/><circle cx="517.22" cy="113.84" r="0.85"/><circle cx="517.49" cy="113.28" r="0.85"/><circle cx="518.6" cy="113.1" r="0.85"/><circle cx="518.85" cy="113.03" r="0.85"/><circle cx="519.57" cy="108.33" r="0.85"/><circle cx="520.28" cy="99.61" r="0.85"/><circle cx="521.18" cy="59.77" r="0.85"/><circle cx="521.67" cy="95.1" r="0.85"/><circle cx="522.74" cy="105.82" r="0.85"/><circle cx="523.06" cy="111.28" r="0.85"/><circle cx="524.23" cy="112.32" r="0.85"/><circle cx="524.64" cy="112.75" r="0.85"/><circle cx="525.62" cy="112.99" r="0.85"/><circle cx="526.08" cy="113.52" r="0.85"/><circle cx="526.57" cy="113.17" r="0.85"/><circle cx="527.16" cy="113.73" r="0.85"/><circle cx="527.96" cy="113.38" r="0.85"/><circle cx="528.75" cy="112.83" r="0.85"/><circle cx="529.52" cy="112.69" r="0.85"/><circle cx="529.86" cy="112.5" r="0.85"/><circle cx="530.59" cy="112.61" r="0.85"/><circle cx="531.53" cy="113.79" r="0.85"/><circle cx="532.38" cy="113.47" r="0.85"/><circle cx="533.18" cy="112.65" r="0.85"/><circle cx="533.57" cy="113" r="0.85"/><circle cx="534.4" cy="113.16" r="0.85"/><circle cx="534.79" cy="113.61" r="0.85"/><circle cx="535.62" cy="113.71" r="0.85"/><circle cx="536.57" cy="112.78" r="0.85"/><circle cx="537.25" cy="113.78" r="0.85"/><circle cx="537.97" cy="112.9" r="0.85"/><circle cx="538.7" cy="113.62" r="0.85"/><circle cx="539.4" cy="113.59" r="0.85"/><circle cx="539.94" cy="113.14" r="0.85"/><circle cx="540.49" cy="113.63" r="0.85"/><circle cx="541.11" cy="113.18" r="0.85"/><circle cx="541.78" cy="113.76" r="0.85"/><circle cx="542.58" cy="113.57" r="0.85"/><circle cx="543.12" cy="113.5" r="0.85"/><circle cx="544.03" cy="112.49" r="0.85"/><circle cx="544.53" cy="112.6" r="0.85"/><circle cx="545.03" cy="113.61" r="0.85"/><circle cx="546.04" cy="113.82" r="0.85"/><circle cx="546.78" cy="113.25" r="0.85"/><circle cx="547.08" cy="112.44" r="0.85"/><circle cx="548.11" cy="113.5" r="0.85"/><circle cx="548.94" cy="113.36" r="0.85"/><circle cx="549.23" cy="112.77" r="0.85"/><circle cx="549.86" cy="113.88" r="0.85"/><circle cx="550.88" cy="113.14" r="0.85"/><circle cx="551.25" cy="113.84" r="0.85"/><circle cx="551.93" cy="113.42" r="0.85"/><circle cx="552.95" cy="113" r="0.85"/><circle cx="553.29" cy="113.61" r="0.85"/><circle cx="554.04" cy="113.43" r="0.85"/><circle cx="555.23" cy="112.84" r="0.85"/><circle cx="555.37" cy="113.5" r="0.85"/><circle cx="556.04" cy="112.07" r="0.85"/><circle cx="556.73" cy="113.19" r="0.85"/><circle cx="557.88" cy="113" r="0.85"/><circle cx="558.64" cy="112.66" r="0.85"/><circle cx="559.27" cy="111.45" r="0.85"/><circle cx="559.86" cy="108.41" r="0.85"/><circle cx="560.48" cy="99.21" r="0.85"/><circle cx="561.07" cy="106.72" r="0.85"/><circle cx="561.63" cy="109.14" r="0.85"/><circle cx="562.54" cy="105.77" r="0.85"/><circle cx="563.1" cy="97.07" r="0.85"/><circle cx="563.71" cy="106.37" r="0.85"/><circle cx="564.84" cy="110.77" r="0.85"/><circle cx="565.36" cy="111.72" r="0.85"/><circle cx="565.77" cy="112.5" r="0.85"/><circle cx="566.47" cy="112.98" r="0.85"/><circle cx="567.63" cy="112.99" r="0.85"/><circle cx="568.12" cy="112.59" r="0.85"/><circle cx="568.8" cy="112.71" r="0.85"/><circle cx="569.4" cy="112.51" r="0.85"/><circle cx="569.92" cy="113.49" r="0.85"/><circle cx="570.61" cy="112.83" r="0.85"/><circle cx="571.57" cy="112.53" r="0.85"/><circle cx="572.17" cy="113.62" r="0.85"/><circle cx="572.72" cy="113.02" r="0.85"/><circle cx="573.8" cy="112.69" r="0.85"/><circle cx="574.33" cy="113.09" r="0.85"/><circle cx="574.71" cy="112.77" r="0.85"/><circle cx="575.48" cy="112.34" r="0.85"/><circle cx="576.3" cy="113" r="0.85"/><circle cx="577.09" cy="113.32" r="0.85"/><circle cx="577.84" cy="113.73" r="0.85"/><circle cx="578.54" cy="113.43" r="0.85"/><circle cx="579.02" cy="113.19" r="0.85"/><circle cx="579.97" cy="113.79" r="0.85"/><circle cx="580.64" cy="112.93" r="0.85"/><circle cx="581.26" cy="112.98" r="0.85"/><circle cx="581.85" cy="112.31" r="0.85"/><circle cx="582.45" cy="113.72" r="0.85"/><circle cx="583.28" cy="113.42" r="0.85"/><circle cx="583.61" cy="111.52" r="0.85"/><circle cx="584.83" cy="112.05" r="0.85"/><circle cx="585.3" cy="112.98" r="0.85"/><circle cx="585.84" cy="113.27" r="0.85"/><circle cx="586.58" cy="111.61" r="0.85"/><circle cx="587.1" cy="111.75" r="0.85"/><circle cx="587.87" cy="112.18" r="0.85"/><circle cx="588.44" cy="112.52" r="0.85"/><circle cx="589.22" cy="113.56" r="0.85"/><circle cx="589.86" cy="113.42" r="0.85"/><circle cx="590.46" cy="112.84" r="0.85"/><circle cx="591.44" cy="113.06" r="0.85"/><circle cx="591.94" cy="112.71" r="0.85"/><circle cx="592.53" cy="112.82" r="0.85"/><circle cx="593.49" cy="112.78" r="0.85"/><circle cx="594.14" cy="110.73" r="0.85"/><circle cx="594.6" cy="106.51" r="0.85"/><circle cx="595.56" cy="110.1" r="0.85"/><circle cx="596.28" cy="111.48" r="0.85"/><circle cx="596.95" cy="113.12" r="0.85"/><circle cx="597.68" cy="112.83" r="0.85"/><circle cx="598.04" cy="113.53" r="0.85"/><circle cx="599.06" cy="113.27" r="0.85"/><circle cx="599.5" cy="113.4" r="0.85"/><circle cx="600.56" cy="113.61" r="0.85"/><circle cx="601.34" cy="112.75" r="0.85"/><circle cx="601.79" cy="112.41" r="0.85"/><circle cx="602.27" cy="112.47" r="0.85"/><circle cx="603.27" cy="113.36" r="0.85"/><circle cx="603.68" cy="113.11" r="0.85"/><circle cx="604.49" cy="113.22" r="0.85"/><circle cx="605.15" cy="112.97" r="0.85"/><circle cx="605.82" cy="113.1" r="0.85"/><circle cx="606.58" cy="112.56" r="0.85"/><circle cx="607.45" cy="112.82" r="0.85"/><circle cx="608.11" cy="113.89" r="0.85"/><circle cx="608.64" cy="112.89" r="0.85"/><circle cx="609.18" cy="113.55" r="0.85"/><circle cx="609.75" cy="113.64" r="0.85"/><circle cx="610.75" cy="113.91" r="0.85"/><circle cx="611.47" cy="113.6" r="0.85"/><circle cx="612.05" cy="113.72" r="0.85"/><circle cx="612.61" cy="112.51" r="0.85"/><circle cx="613.76" cy="113.55" r="0.85"/><circle cx="614.15" cy="112.72" r="0.85"/><circle cx="614.73" cy="113.6" r="0.85"/><circle cx="615.7" cy="112.72" r="0.85"/><circle cx="616.13" cy="112.52" r="0.85"/><circle cx="616.91" cy="113.27" r="0.85"/><circle cx="617.59" cy="113.81" r="0.85"/><circle cx="618.1" cy="112.91" r="0.85"/><circle cx="618.71" cy="113.5" r="0.85"/><circle cx="619.59" cy="112.12" r="0.85"/><circle cx="620.21" cy="113.15" r="0.85"/><circle cx="620.8" cy="112.01" r="0.85"/><circle cx="622" cy="109.9" r="0.85"/><circle cx="622.18" cy="109.86" r="0.85"/><circle cx="623.09" cy="112.34" r="0.85"/><circle cx="623.72" cy="111.93" r="0.85"/><circle cx="624.3" cy="113.57" r="0.85"/><circle cx="625.44" cy="113.39" r="0.85"/><circle cx="626.02" cy="113.7" r="0.85"/><circle cx="626.32" cy="113.76" r="0.85"/><circle cx="627.52" cy="113.42" r="0.85"/><circle cx="627.64" cy="113.16" r="0.85"/><circle cx="628.59" cy="112.8" r="0.85"/><circle cx="629.44" cy="113" r="0.85"/><circle cx="629.7" cy="112.63" r="0.85"/><circle cx="630.98" cy="113.41" r="0.85"/><circle cx="631.48" cy="113.13" r="0.85"/><circle cx="632.17" cy="113.5" r="0.85"/><circle cx="632.47" cy="113.63" r="0.85"/><circle cx="633.4" cy="113.49" r="0.85"/><circle cx="634.31" cy="112.98" r="0.85"/><circle cx="635.07" cy="112.57" r="0.85"/><circle cx="635.71" cy="113.66" r="0.85"/><circle cx="636.03" cy="113.83" r="0.85"/><circle cx="637.13" cy="113.31" r="0.85"/><circle cx="637.68" cy="113.22" r="0.85"/><circle cx="638.36" cy="112.52" r="0.85"/><circle cx="638.96" cy="112.38" r="0.85"/><circle cx="639.52" cy="112.38" r="0.85"/><circle cx="640.19" cy="112.5" r="0.85"/><circle cx="641.12" cy="112.52" r="0.85"/><circle cx="641.87" cy="113.13" r="0.85"/><circle cx="642.52" cy="113.55" r="0.85"/><circle cx="643.09" cy="113.16" r="0.85"/><circle cx="643.73" cy="113.33" r="0.85"/><circle cx="644.4" cy="112.49" r="0.85"/><circle cx="644.97" cy="111.35" r="0.85"/><circle cx="645.77" cy="110.67" r="0.85"/><circle cx="646.28" cy="110.11" r="0.85"/><circle cx="647.44" cy="111.32" r="0.85"/><circle cx="647.82" cy="112.8" r="0.85"/><circle cx="648.63" cy="112.77" r="0.85"/><circle cx="649.07" cy="111.3" r="0.85"/><circle cx="649.94" cy="110.58" r="0.85"/><circle cx="650.4" cy="111.18" r="0.85"/><circle cx="651.04" cy="111.86" r="0.85"/><circle cx="652.21" cy="113.29" r="0.85"/><circle cx="652.6" cy="112.6" r="0.85"/><circle cx="653.25" cy="113.7" r="0.85"/><circle cx="654.29" cy="113.72" r="0.85"/><circle cx="654.76" cy="112.96" r="0.85"/><circle cx="655.39" cy="112.97" r="0.85"/><circle cx="656.27" cy="113.46" r="0.85"/><circle cx="656.62" cy="113.93" r="0.85"/><circle cx="657.56" cy="112.84" r="0.85"/><circle cx="658.53" cy="113.62" r="0.85"/><circle cx="658.67" cy="113.67" r="0.85"/><circle cx="659.44" cy="113.58" r="0.85"/><circle cx="660.04" cy="113.05" r="0.85"/><circle cx="660.94" cy="112.41" r="0.85"/><circle cx="661.55" cy="113.77" r="0.85"/><circle cx="662.48" cy="112.41" r="0.85"/><circle cx="662.8" cy="112.81" r="0.85"/><circle cx="663.97" cy="112.69" r="0.85"/><circle cx="664.43" cy="113.8" r="0.85"/><circle cx="665.23" cy="113.12" r="0.85"/><circle cx="665.74" cy="112.9" r="0.85"/><circle cx="666.59" cy="113.59" r="0.85"/><circle cx="667.22" cy="113.76" r="0.85"/><circle cx="668.07" cy="113.65" r="0.85"/><circle cx="668.64" cy="112.69" r="0.85"/><circle cx="669.04" cy="113.18" r="0.85"/><circle cx="669.87" cy="112.6" r="0.85"/><circle cx="670.34" cy="113.7" r="0.85"/><circle cx="671.58" cy="113.62" r="0.85"/><circle cx="672.08" cy="112.5" r="0.85"/><circle cx="672.42" cy="111.85" r="0.85"/><circle cx="673.52" cy="110.34" r="0.85"/><circle cx="674.07" cy="110.29" r="0.85"/><circle cx="674.46" cy="111.51" r="0.85"/><circle cx="675.42" cy="112.35" r="0.85"/><circle cx="676.14" cy="113.56" r="0.85"/><circle cx="676.76" cy="113.71" r="0.85"/><circle cx="677.52" cy="113.58" r="0.85"/><circle cx="678.45" cy="112.32" r="0.85"/><circle cx="521.92" cy="38" r="0.7"/><circle cx="521.92" cy="43" r="0.7"/><circle cx="521.92" cy="48" r="0.7"/><circle cx="521.92" cy="53" r="0.7"/><circle cx="521.92" cy="58" r="0.7"/><circle cx="521.92" cy="63" r="0.7"/><circle cx="521.92" cy="68" r="0.7"/><circle cx="521.92" cy="73" r="0.7"/><circle cx="521.92" cy="78" r="0.7"/><circle cx="521.92" cy="83" r="0.7"/><circle cx="521.92" cy="88" r="0.7"/><circle cx="521.92" cy="93" r="0.7"/><circle cx="521.92" cy="98" r="0.7"/><circle cx="521.92" cy="103" r="0.7"/></g>
<circle cx="521.3" cy="24.5" r="0.9" fill="#333"/><circle cx="521.3" cy="31" r="0.9" fill="#333"/>
<path d="M490.9,113.19 491.37,113.19 491.84,113.19 492.31,113.19 492.78,113.19 493.25,113.19 493.72,113.19 494.19,113.18 494.66,113.18 495.13,113.18 495.59,113.18 496.06,113.18 496.53,113.18 497,113.18 497.47,113.17 497.94,113.17 498.41,113.17 498.88,113.17 499.35,113.16 499.82,113.16 500.29,113.16 500.76,113.15 501.23,113.14 501.7,113.14 502.17,113.13 502.64,113.11 503.11,113.09 503.58,113.07 503.7,113.06 503.83,113.05 503.95,113.04 504.08,113.03 504.2,113.02 504.33,113 504.45,112.99 504.58,112.97 504.7,112.95 504.83,112.92 504.95,112.89 505.08,112.86 505.2,112.82 505.33,112.76 505.45,112.7 505.58,112.62 505.7,112.51 505.83,112.36 505.96,112.17 506.08,111.92 506.21,111.59 506.33,111.22 506.46,110.9 506.58,110.79 506.71,110.94 506.83,111.21 506.96,111.47 507.08,111.66 507.21,111.76 507.33,111.79 507.46,111.75 507.58,111.64 507.71,111.46 507.83,111.2 507.96,110.84 508.08,110.34 508.21,109.67 508.33,108.79 508.46,107.72 508.58,106.6 508.71,105.74 508.83,105.54 508.96,106.13 509.09,107.19 509.21,108.34 509.34,109.34 509.46,110.14 509.59,110.75 509.71,111.21 509.84,111.56 509.96,111.83 510.09,112.05 510.21,112.21 510.34,112.35 510.46,112.46 510.59,112.55 510.71,112.62 510.84,112.69 510.96,112.74 511.09,112.78 511.21,112.82 511.34,112.86 511.46,112.88 511.59,112.91 511.71,112.93 511.84,112.95 511.96,112.97 512.43,113.02 512.9,113.06 513.37,113.08 513.84,113.1 514.31,113.12 514.78,113.13 515.25,113.14 515.72,113.14 516.19,113.15 516.66,113.16 517.13,113.16 517.6,113.16 518.07,113.16 518.54,113.11 518.66,113.08 518.79,113.02 518.91,112.92 519.04,112.78 519.16,112.56 519.29,112.25 519.41,111.81 519.54,111.22 519.66,110.43 519.79,109.41 519.92,108.14 520.04,106.61 520.17,104.83 520.29,102.82 520.42,100.63 520.54,98.36 520.57,97.79 520.6,97.22 520.63,96.66 520.67,96.1 520.7,95.55 520.73,95.01 520.76,94.48 520.79,93.97 520.82,93.48 520.85,92.99 520.89,92.52 520.92,92.05 520.95,91.52 520.98,90.87 521.01,89.93 521.04,88.44 521.07,86 521.1,82.18 521.14,76.57 521.17,69.03 521.2,59.94 521.23,50.27 521.26,41.53 521.29,35.39 521.32,33.18 521.35,35.39 521.39,41.53 521.42,50.27 521.45,59.94 521.48,69.04 521.51,76.57 521.54,82.18 521.57,86.01 521.61,88.44 521.64,89.93 521.67,90.87 521.7,91.53 521.73,92.05 521.76,92.52 521.79,93 521.82,93.48 521.86,93.98 521.89,94.49 521.92,95.01 521.95,95.55 521.98,96.1 522.01,96.66 522.04,97.22 522.07,97.79 522.11,98.36 522.14,98.93 522.17,99.5 522.2,100.07 522.23,100.64 522.26,101.19 522.29,101.75 522.33,102.29 522.36,102.82 522.39,103.34 522.51,105.3 522.64,107.03 522.76,108.49 522.89,109.69 523.01,110.65 523.14,111.39 523.26,111.94 523.39,112.35 523.51,112.63 523.64,112.83 523.76,112.96 523.89,113.05 524.02,113.1 524.14,113.14 524.27,113.16 524.39,113.17 524.52,113.17 524.99,113.18 525.46,113.18 525.92,113.18 526.39,113.18 526.86,113.18 527.33,113.18 527.8,113.18 528.27,113.18 528.74,113.18 529.21,113.18 529.68,113.18 530.15,113.18 530.62,113.18 531.09,113.18 531.56,113.18 532.03,113.18 532.5,113.18 532.97,113.18 533.44,113.18 533.91,113.18 534.38,113.18 534.85,113.18 535.31,113.18 535.78,113.18 536.25,113.18 536.72,113.18 537.19,113.18 537.66,113.18 538.13,113.18 538.6,113.18 539.07,113.18 539.54,113.18 540.01,113.18 540.48,113.18 540.95,113.17 541.42,113.17 541.89,113.17 542.36,113.17 542.83,113.17 543.3,113.17 543.77,113.17 544.24,113.17 544.7,113.16 545.17,113.16 545.64,113.16 546.11,113.16 546.58,113.16 547.05,113.15 547.52,113.15 547.99,113.15 548.46,113.14 548.93,113.14 549.4,113.14 549.87,113.13 550.34,113.13 550.81,113.12 551.28,113.11 551.75,113.1 552.22,113.09 552.69,113.08 553.16,113.07 553.63,113.05 554.09,113.04 554.56,113.01 555.03,112.98 555.5,112.95 555.97,112.9 556.44,112.84 556.91,112.76 557.38,112.65 557.85,112.47 557.98,112.41 558.1,112.34 558.23,112.27 558.35,112.18 558.48,112.07 558.6,111.95 558.73,111.8 558.85,111.63 558.98,111.42 559.1,111.17 559.23,110.86 559.35,110.48 559.48,109.99 559.6,109.37 559.73,108.57 559.85,107.54 559.98,106.22 560.1,104.58 560.23,102.71 560.35,100.89 560.48,99.7 560.61,99.63 560.73,100.7 560.86,102.39 560.98,104.13 561.11,105.62 561.23,106.77 561.36,107.62 561.48,108.2 561.61,108.58 561.73,108.76 561.86,108.79 561.98,108.66 562.11,108.36 562.23,107.86 562.36,107.13 562.48,106.11 562.61,104.73 562.73,102.94 562.86,100.82 562.98,98.64 563.11,97.03 563.23,96.7 563.36,97.84 563.48,99.93 563.61,102.25 563.74,104.34 563.86,106.05 563.99,107.39 564.11,108.43 564.24,109.23 564.36,109.85 564.49,110.35 564.61,110.74 564.74,111.06 564.86,111.32 564.99,111.54 565.11,111.72 565.24,111.87 565.36,112 565.49,112.11 565.61,112.2 565.74,112.29 565.86,112.36 565.99,112.43 566.11,112.48 566.24,112.53 566.36,112.58 566.83,112.71 567.3,112.8 567.77,112.87 568.24,112.92 568.71,112.96 569.18,112.99 569.65,113.02 570.12,113.04 570.59,113.05 571.06,113.07 571.53,113.08 572,113.09 572.47,113.1 572.94,113.1 573.41,113.11 573.88,113.12 574.35,113.12 574.82,113.12 575.28,113.13 575.75,113.13 576.22,113.13 576.69,113.13 577.16,113.13 577.63,113.13 578.1,113.13 578.57,113.13 579.04,113.13 579.51,113.12 579.98,113.12 580.45,113.11 580.92,113.1 581.39,113.09 581.51,113.08 581.64,113.08 581.76,113.07 581.89,113.06 582.01,113.05 582.14,113.04 582.26,113.03 582.39,113.02 582.52,113 582.64,112.98 582.77,112.95 582.89,112.92 583.02,112.89 583.14,112.84 583.27,112.79 583.39,112.72 583.52,112.63 583.64,112.52 583.77,112.39 583.89,112.26 584.02,112.14 584.14,112.08 584.27,112.09 584.39,112.17 584.52,112.29 584.64,112.41 584.77,112.51 584.89,112.59 585.02,112.66 585.14,112.7 585.27,112.73 585.39,112.75 585.52,112.75 585.65,112.75 585.77,112.73 585.9,112.7 586.02,112.66 586.15,112.6 586.27,112.52 586.4,112.42 586.52,112.29 586.65,112.13 586.77,111.92 586.9,111.68 587.02,111.43 587.15,111.21 587.27,111.1 587.4,111.14 587.52,111.32 587.65,111.56 587.77,111.82 587.9,112.05 588.02,112.24 588.15,112.39 588.27,112.51 588.4,112.6 588.52,112.68 588.65,112.74 588.78,112.79 588.9,112.82 589.03,112.85 589.15,112.88 589.28,112.9 589.4,112.92 589.53,112.93 589.65,112.94 589.78,112.95 589.9,112.95 590.03,112.96 590.15,112.96 590.28,112.96 590.4,112.96 590.53,112.96 591,112.95 591.47,112.91 591.94,112.85 592.06,112.83 592.19,112.8 592.31,112.77 592.44,112.74 592.56,112.7 592.69,112.65 592.81,112.6 592.94,112.54 593.06,112.47 593.19,112.38 593.31,112.28 593.44,112.15 593.56,112 593.69,111.82 593.81,111.6 593.94,111.32 594.06,110.97 594.19,110.55 594.32,110.03 594.44,109.41 594.57,108.72 594.69,108.03 594.82,107.46 594.94,107.18 595.07,107.28 595.19,107.72 595.32,108.37 595.44,109.08 595.57,109.74 595.69,110.31 595.82,110.78 595.94,111.16 596.07,111.47 596.19,111.73 596.32,111.93 596.44,112.1 596.57,112.23 596.69,112.35 596.82,112.44 596.94,112.52 597.07,112.59 597.19,112.65 597.32,112.7 597.45,112.75 597.57,112.78 597.7,112.82 597.82,112.85 597.95,112.87 598.07,112.9 598.2,112.92 598.67,112.98 599.14,113.02 599.6,113.05 600.07,113.07 600.54,113.09 601.01,113.1 601.48,113.12 601.95,113.12 602.42,113.13 602.89,113.14 603.36,113.14 603.83,113.15 604.3,113.15 604.77,113.15 605.24,113.16 605.71,113.16 606.18,113.16 606.65,113.16 607.12,113.16 607.59,113.16 608.06,113.16 608.53,113.16 608.99,113.16 609.46,113.16 609.93,113.16 610.4,113.16 610.87,113.16 611.34,113.16 611.81,113.16 612.28,113.16 612.75,113.16 613.22,113.16 613.69,113.16 614.16,113.15 614.63,113.15 615.1,113.14 615.57,113.14 616.04,113.13 616.51,113.12 616.98,113.11 617.45,113.1 617.92,113.08 618.38,113.05 618.85,113.01 619.32,112.95 619.45,112.93 619.57,112.91 619.7,112.88 619.82,112.85 619.95,112.82 620.08,112.78 620.2,112.73 620.33,112.68 620.45,112.61 620.58,112.53 620.7,112.44 620.83,112.33 620.95,112.19 621.08,112.02 621.2,111.81 621.33,111.55 621.45,111.22 621.58,110.83 621.7,110.37 621.83,109.87 621.95,109.39 622.08,109.02 622.2,108.89 622.33,109.02 622.45,109.39 622.58,109.87 622.7,110.37 622.83,110.83 622.95,111.22 623.08,111.55 623.21,111.81 623.33,112.02 623.46,112.19 623.58,112.33 623.71,112.44 623.83,112.53 623.96,112.61 624.08,112.68 624.21,112.73 624.33,112.78 624.46,112.82 624.58,112.85 624.71,112.88 624.83,112.91 624.96,112.93 625.08,112.95 625.21,112.97 625.33,112.99 625.46,113 625.93,113.04 626.4,113.07 626.87,113.09 627.34,113.11 627.81,113.12 628.28,113.13 628.75,113.14 629.21,113.14 629.68,113.15 630.15,113.15 630.62,113.15 631.09,113.16 631.56,113.16 632.03,113.16 632.5,113.16 632.97,113.16 633.44,113.16 633.91,113.16 634.38,113.16 634.85,113.16 635.32,113.16 635.79,113.16 636.26,113.16 636.73,113.16 637.2,113.16 637.67,113.15 638.14,113.15 638.6,113.15 639.07,113.14 639.54,113.14 640.01,113.13 640.48,113.12 640.95,113.11 641.42,113.1 641.89,113.08 642.36,113.06 642.83,113.02 643.3,112.97 643.42,112.96 643.55,112.94 643.68,112.91 643.8,112.89 643.93,112.86 644.05,112.83 644.18,112.79 644.3,112.75 644.43,112.69 644.55,112.63 644.68,112.56 644.8,112.47 644.93,112.36 645.05,112.23 645.18,112.07 645.3,111.87 645.43,111.62 645.55,111.32 645.68,110.97 645.8,110.57 645.93,110.17 646.05,109.85 646.18,109.68 646.3,109.73 646.43,109.97 646.55,110.33 646.68,110.71 646.81,111.07 646.93,111.38 647.06,111.63 647.18,111.83 647.31,111.99 647.43,112.11 647.56,112.2 647.68,112.26 647.81,112.3 647.93,112.32 648.06,112.32 648.18,112.31 648.31,112.27 648.43,112.21 648.56,112.13 648.68,112.02 648.81,111.88 648.93,111.69 649.06,111.45 649.18,111.16 649.31,110.81 649.43,110.42 649.56,110.05 649.68,109.77 649.81,109.67 649.94,109.79 650.06,110.08 650.19,110.47 650.31,110.87 650.44,111.24 650.56,111.56 650.69,111.81 650.81,112.02 650.94,112.2 651.06,112.33 651.19,112.45 651.31,112.54 651.44,112.62 651.56,112.68 651.69,112.73 651.81,112.78 651.94,112.82 652.06,112.85 652.19,112.88 652.31,112.91 652.44,112.93 652.56,112.95 652.69,112.97 652.81,112.98 652.94,113 653.41,113.04 653.88,113.07 654.35,113.09 654.82,113.1 655.29,113.12 655.76,113.13 656.23,113.13 656.7,113.14 657.17,113.15 657.64,113.15 658.1,113.15 658.57,113.16 659.04,113.16 659.51,113.16 659.98,113.16 660.45,113.16 660.92,113.16 661.39,113.16 661.86,113.16 662.33,113.16 662.8,113.16 663.27,113.16 663.74,113.16 664.21,113.16 664.68,113.16 665.15,113.16 665.62,113.15 666.09,113.15 666.56,113.15 667.03,113.14 667.49,113.13 667.96,113.12 668.43,113.11 668.9,113.1 669.37,113.08 669.84,113.06 670.31,113.02 670.78,112.97 670.91,112.95 671.03,112.93 671.16,112.91 671.28,112.88 671.41,112.86 671.53,112.82 671.66,112.79 671.78,112.75 671.91,112.7 672.03,112.64 672.16,112.58 672.28,112.5 672.41,112.42 672.53,112.31 672.66,112.19 672.78,112.05 672.91,111.89 673.03,111.71 673.16,111.5 673.29,111.28 673.41,111.06 673.54,110.85 673.66,110.69 673.79,110.6 673.91,110.6 674.04,110.69 674.16,110.85 674.29,111.06 674.41,111.28 674.54,111.5 674.66,111.71 674.79,111.89 674.91,112.06 675.04,112.2 675.16,112.32 675.29,112.42 675.41,112.51 675.54,112.58 675.66,112.64 675.79,112.7 675.91,112.75 676.04,112.79 676.16,112.83 676.29,112.86 676.42,112.89 676.54,112.91 676.67,112.93 676.79,112.95 676.92,112.97 677.04,112.99 677.51,113.03 677.98,113.07 678.45,113.09" fill="none" stroke="#e81010" stroke-width="0.9" stroke-linejoin="round" />
<path d="M490.9,142.71 491.06,142.82 491.21,142.87 491.37,143 491.53,142.82 491.68,142.98 491.84,142.18 492,142.57 492.15,143 492.31,142.73 492.46,142.96 492.62,142.25 492.78,142.57 492.93,142.37 493.09,142.64 493.25,142.67 493.4,142.16 493.56,142.35 493.72,142.4 493.87,142.97 494.03,142.84 494.19,142.29 494.34,142.87 494.5,142.27 494.66,142.71 494.81,142.26 494.97,142.15 495.13,142.93 495.28,142.34 495.44,142.34 495.6,143.03 495.75,142.94 495.91,142.41 496.06,143.02 496.22,142.64 496.38,142.76 496.53,142.33 496.69,143 496.85,142.77 497,143.02 497.16,142.95 497.32,142.42 497.47,142.48 497.63,142.3 497.79,142.28 497.94,142.21 498.1,142.42 498.26,142.69 498.41,142.15 498.57,142.76 498.73,142.45 498.88,142.43 499.04,142.89 499.19,142.58 499.35,142.43 499.51,142.58 499.66,142.78 499.82,142.2 499.98,143.03 500.13,142.17 500.29,142.82 500.45,142.91 500.6,142.17 500.76,142.86 500.92,142.48 501.07,142.67 501.23,142.16 501.39,142.19 501.54,142.31 501.7,143.01 501.86,142.33 502.01,142.83 502.17,142.99 502.32,143 502.48,142.46 502.64,142.47 502.79,142.62 502.95,142.85 503.11,142.25 503.26,142.82 503.42,142.87 503.58,142.92 503.73,142.18 503.89,143 504.05,142.23 504.2,142.46 504.36,142.7 504.52,142.98 504.67,142.46 504.83,142.98 504.99,142.64 505.14,142.43 505.3,142.44 505.45,142.31 505.61,142.22 505.77,142.28 505.92,142.77 506.08,143.05 506.24,142.3 506.39,142.19 506.55,143.04 506.71,142.63 506.86,142.52 507.02,142.36 507.18,142.68 507.33,142.89 507.49,142.56 507.65,142.53 507.8,142.2 507.96,142.98 508.12,142.2 508.27,142.62 508.43,142.88 508.58,142.08 508.74,142.31 508.9,142.15 509.05,141.73 509.21,142.18 509.37,142.25 509.52,143.22 509.68,143.27 509.84,143.76 509.99,142.92 510.15,142.75 510.31,143.07 510.46,142.89 510.62,143.01 510.78,142.55 510.93,142.59 511.09,142.81 511.25,142.58 511.4,142.41 511.56,142.51 511.71,142.28 511.87,142.49 512.03,143.04 512.18,143.01 512.34,142.71 512.5,142.6 512.65,142.45 512.81,142.23 512.97,142.4 513.12,142.85 513.28,142.93 513.44,142.48 513.59,142.86 513.75,142.85 513.91,142.78 514.06,142.75 514.22,142.83 514.38,142.48 514.53,142.78 514.69,142.4 514.84,142.59 515,142.84 515.16,142.77 515.31,142.41 515.47,143 515.63,142.73 515.78,142.67 515.94,142.16 516.1,142.64 516.25,142.38 516.41,142.75 516.57,142.57 516.72,142.89 516.88,142.73 517.04,142.87 517.19,142.46 517.35,142.73 517.51,142.81 517.66,142.9 517.82,142.47 517.97,142.91 518.13,142.93 518.29,142.77 518.44,143.03 518.6,143.01 518.76,142.62 518.91,142.63 519.07,142.3 519.23,142.9 519.38,142.99 519.54,142.58 519.7,142.77 519.85,142.8 520.01,142.81 520.17,142.3 520.32,142.85 520.48,142.67 520.51,142.75 520.54,142.53 520.57,142.71 520.6,142.85 520.64,142.72 520.67,142.8 520.7,142.17 520.73,142.29 520.76,142.55 520.79,142.74 520.82,142.35 520.85,142.77 520.89,142.72 520.92,142.19 520.95,142.57 520.98,142.34 521.01,142.15 521.04,142.11 521.07,141.99 521.1,141.21 521.14,140.02 521.17,138.11 521.2,136.44 521.23,134.67 521.26,134.24 521.29,134.94 521.32,136.44 521.35,139.31 521.39,140.66 521.42,142.81 521.45,144.13 521.48,145.44 521.51,146.15 521.54,147.46 521.57,147.28 521.61,146.75 521.64,146.64 521.67,145.31 521.7,144.82 521.73,143.85 521.76,143.48 521.79,143.44 521.82,143.09 521.86,142.62 521.89,142.92 521.92,142.74 521.95,142.49 521.98,142.28 522.01,142.69 522.04,142.66 522.07,143.01 522.11,143.02 522.14,142.7 522.17,142.47 522.2,142.95 522.23,142.15 522.26,142.25 522.29,142.66 522.33,142.7 522.36,142.28 522.51,142.72 522.67,142.95 522.83,142.49 522.98,142.54 523.14,142.35 523.3,142.41 523.45,143.03 523.61,142.49 523.77,143.02 523.92,142.97 524.08,142.69 524.23,142.38 524.39,143.03 524.55,142.6 524.7,142.52 524.86,142.44 525.02,143.04 525.17,142.59 525.33,142.41 525.49,142.58 525.64,142.26 525.8,142.71 525.96,142.55 526.11,142.41 526.27,142.85 526.43,142.89 526.58,142.16 526.74,142.63 526.9,142.4 527.05,142.99 527.21,142.85 527.36,142.37 527.52,142.39 527.68,142.29 527.83,143.04 527.99,142.41 528.15,142.7 528.3,142.58 528.46,142.73 528.62,142.69 528.77,142.82 528.93,142.26 529.09,142.83 529.24,142.42 529.4,142.63 529.56,142.45 529.71,142.42 529.87,142.63 530.03,142.57 530.18,142.47 530.34,142.82 530.49,142.68 530.65,142.18 530.81,142.38 530.96,142.56 531.12,142.97 531.28,142.95 531.43,142.64 531.59,142.16 531.75,142.85 531.9,142.53 532.06,142.67 532.22,142.79 532.37,142.72 532.53,142.58 532.69,142.97 532.84,142.5 533,142.5 533.16,142.92 533.31,142.33 533.47,142.42 533.62,142.9 533.78,142.21 533.94,142.9 534.09,142.78 534.25,142.54 534.41,142.41 534.56,142.85 534.72,142.97 534.88,142.28 535.03,142.58 535.19,142.64 535.35,142.6 535.5,142.45 535.66,142.29 535.82,142.68 535.97,142.88 536.13,142.21 536.29,142.36 536.44,142.89 536.6,142.86 536.75,142.75 536.91,142.17 537.07,142.8 537.22,143.03 537.38,143.05 537.54,142.78 537.69,142.19 537.85,142.91 538.01,142.35 538.16,142.73 538.32,143.01 538.48,142.79 538.63,142.27 538.79,142.41 538.95,142.98 539.1,142.28 539.26,142.7 539.42,142.52 539.57,142.3 539.73,142.71 539.88,142.19 540.04,142.25 540.2,142.49 540.35,142.21 540.51,142.2 540.67,142.67 540.82,142.82 540.98,142.94 541.14,142.27 541.29,142.54 541.45,142.43 541.61,142.69 541.76,142.59 541.92,142.99 542.08,142.49 542.23,142.2 542.39,142.78 542.54,142.29 542.7,142.72 542.86,142.61 543.01,142.97 543.17,142.65 543.33,142.71 543.48,142.39 543.64,142.65 543.8,142.38 543.95,142.83 544.11,142.62 544.27,142.27 544.42,142.36 544.58,142.48 544.74,142.81 544.89,142.31 545.05,142.79 545.21,142.74 545.36,142.23 545.52,142.75 545.67,142.23 545.83,142.26 545.99,142.68 546.14,142.36 546.3,142.94 546.46,142.58 546.61,142.44 546.77,142.87 546.93,142.18 547.08,142.8 547.24,142.2 547.4,142.29 547.55,143.01 547.71,142.76 547.87,142.35 548.02,142.25 548.18,143.03 548.34,142.75 548.49,142.89 548.65,142.28 548.8,142.71 548.96,142.47 549.12,142.36 549.27,142.45 549.43,142.7 549.59,142.46 549.74,142.5 549.9,142.27 550.06,142.9 550.21,142.73 550.37,142.87 550.53,142.54 550.68,142.92 550.84,142.62 551,142.68 551.15,142.67 551.31,142.82 551.47,142.51 551.62,142.24 551.78,142.18 551.93,142.33 552.09,142.19 552.25,142.95 552.4,142.58 552.56,142.83 552.72,142.15 552.87,142.57 553.03,142.95 553.19,142.71 553.34,142.54 553.5,142.57 553.66,142.24 553.81,142.29 553.97,142.29 554.13,142.49 554.28,142.5 554.44,142.94 554.6,142.29 554.75,142.38 554.91,142.4 555.06,142.3 555.22,142.41 555.38,142.36 555.53,142.58 555.69,142.18 555.85,142.98 556,142.48 556.16,142.99 556.32,142.77 556.47,142.76 556.63,142.57 556.79,143 556.94,142.26 557.1,142.75 557.26,142.41 557.41,142.76 557.57,142.81 557.73,142.3 557.88,142.33 558.04,142.17 558.19,142.36 558.35,142.22 558.51,142.51 558.66,143.03 558.82,142.48 558.98,142.43 559.13,142.58 559.29,142.42 559.45,142.85 559.6,142.85 559.76,142.25 559.92,141.99 560.07,141.75 560.23,141.29 560.39,140.77 560.54,141.19 560.7,143.03 560.86,143.51 561.01,144.17 561.17,144.56 561.32,143.52 561.48,142.57 561.64,142.69 561.79,143 561.95,142.6 562.11,142.48 562.26,142.2 562.42,141.96 562.58,142.29 562.73,141.46 562.89,141.68 563.05,141.3 563.2,142.37 563.36,143.1 563.52,143.82 563.67,143.34 563.83,143.05 563.99,142.77 564.14,142.46 564.3,142.16 564.45,142.16 564.61,143.01 564.77,142.31 564.92,142.61 565.08,142.51 565.24,142.63 565.39,142.23 565.55,142.43 565.71,142.25 565.86,142.64 566.02,142.98 566.18,142.69 566.33,142.92 566.49,142.34 566.65,142.17 566.8,142.64 566.96,142.59 567.12,142.66 567.27,142.49 567.43,142.71 567.58,142.8 567.74,142.97 567.9,142.43 568.05,142.55 568.21,142.89 568.37,142.35 568.52,142.25 568.68,142.43 568.84,142.23 568.99,142.85 569.15,142.89 569.31,142.43 569.46,142.27 569.62,142.22 569.78,142.37 569.93,142.23 570.09,142.54 570.25,142.67 570.4,142.37 570.56,142.21 570.71,142.78 570.87,142.19 571.03,142.33 571.18,142.41 571.34,142.49 571.5,142.24 571.65,142.53 571.81,142.43 571.97,142.83 572.12,142.65 572.28,142.96 572.44,142.74 572.59,142.83 572.75,142.67 572.91,142.55 573.06,142.89 573.22,142.74 573.38,143.01 573.53,142.81 573.69,142.78 573.84,142.39 574,142.88 574.16,142.49 574.31,142.27 574.47,142.21 574.63,142.3 574.78,142.39 574.94,142.76 575.1,142.41 575.25,142.21 575.41,142.84 575.57,142.65 575.72,142.17 575.88,142.2 576.04,142.27 576.19,142.47 576.35,142.92 576.51,143 576.66,142.7 576.82,142.36 576.97,142.54 577.13,142.48 577.29,142.45 577.44,142.16 577.6,142.68 577.76,142.89 577.91,142.8 578.07,142.24 578.23,142.63 578.38,142.3 578.54,142.79 578.7,142.55 578.85,142.99 579.01,142.87 579.17,142.26 579.32,142.44 579.48,142.97 579.64,142.56 579.79,142.54 579.95,142.55 580.1,142.84 580.26,142.99 580.42,142.63 580.57,143.02 580.73,142.69 580.89,142.24 581.04,142.88 581.2,142.53 581.36,142.2 581.51,143.03 581.67,142.18 581.83,142.67 581.98,142.58 582.14,142.94 582.3,142.5 582.45,142.34 582.61,142.4 582.77,142.33 582.92,142.66 583.08,142.47 583.23,142.83 583.39,142.37 583.55,142.47 583.7,142.37 583.86,143.03 584.02,142.91 584.17,142.91 584.33,142.71 584.49,142.51 584.64,142.28 584.8,142.9 584.96,142.59 585.11,142.18 585.27,142.3 585.43,142.24 585.58,142.8 585.74,142.96 585.9,142.33 586.05,142.87 586.21,142.44 586.36,142.76 586.52,142.93 586.68,142.71 586.83,142.87 586.99,142.49 587.15,142.16 587.3,142.61 587.46,142.68 587.62,142.32 587.77,142.5 587.93,142.44 588.09,142.17 588.24,142.43 588.4,142.49 588.56,142.58 588.71,142.78 588.87,142.51 589.03,143.03 589.18,142.88 589.34,142.98 589.49,142.77 589.65,142.75 589.81,142.63 589.96,142.87 590.12,142.48 590.28,142.68 590.43,142.76 590.59,142.62 590.75,142.41 590.9,142.22 591.06,142.23 591.22,142.47 591.37,142.67 591.53,142.83 591.69,142.79 591.84,142.43 592,142.99 592.16,142.4 592.31,142.79 592.47,142.21 592.62,142.83 592.78,142.75 592.94,143.01 593.09,142.96 593.25,142.77 593.41,142.9 593.56,142.82 593.72,142.71 593.88,142.35 594.03,142.63 594.19,142.94 594.35,142.24 594.5,142.69 594.66,142.07 594.82,141.85 594.97,141.7 595.13,142.5 595.29,142.76 595.44,143.39 595.6,143.53 595.75,143.3 595.91,142.83 596.07,142.51 596.22,142.23 596.38,142.76 596.54,142.64 596.69,142.79 596.85,142.49 597.01,142.95 597.16,142.34 597.32,142.43 597.48,142.39 597.63,142.71 597.79,142.96 597.95,142.3 598.1,142.72 598.26,142.84 598.42,142.35 598.57,142.21 598.73,142.66 598.88,142.9 599.04,142.94 599.2,142.81 599.35,142.53 599.51,142.53 599.67,142.63 599.82,142.96 599.98,142.42 600.14,142.4 600.29,142.69 600.45,143.02 600.61,142.32 600.76,142.18 600.92,142.25 601.08,142.66 601.23,142.69 601.39,142.32 601.55,142.32 601.7,142.69 601.86,142.73 602.01,142.77 602.17,142.81 602.33,142.21 602.48,142.59 602.64,142.9 602.8,143.01 602.95,142.44 603.11,142.92 603.27,142.73 603.42,142.98 603.58,142.36 603.74,142.78 603.89,142.91 604.05,142.58 604.21,142.24 604.36,142.32 604.52,142.29 604.68,142.23 604.83,142.29 604.99,142.7 605.14,142.24 605.3,142.83 605.46,142.81 605.61,142.88 605.77,142.87 605.93,142.79 606.08,142.98 606.24,143.01 606.4,142.71 606.55,143.02 606.71,142.24 606.87,142.24 607.02,142.21 607.18,142.34 607.34,142.49 607.49,142.56 607.65,142.76 607.81,142.82 607.96,142.23 608.12,142.51 608.27,142.64 608.43,142.49 608.59,142.26 608.74,142.69 608.9,142.49 609.06,142.77 609.21,142.6 609.37,143.02 609.53,143 609.68,142.21 609.84,142.83 610,142.8 610.15,142.42 610.31,142.26 610.47,142.58 610.62,142.47 610.78,142.81 610.94,142.98 611.09,142.49 611.25,142.41 611.4,142.6 611.56,142.78 611.72,142.86 611.87,142.67 612.03,142.42 612.19,142.45 612.34,142.91 612.5,142.62 612.66,142.2 612.81,142.53 612.97,142.36 613.13,142.75 613.28,142.22 613.44,142.39 613.6,142.24 613.75,142.58 613.91,143.04 614.07,142.64 614.22,142.5 614.38,142.99 614.53,142.23 614.69,142.47 614.85,142.88 615,142.15 615.16,142.84 615.32,142.47 615.47,142.16 615.63,142.38 615.79,142.56 615.94,142.49 616.1,142.62 616.26,142.2 616.41,142.35 616.57,143.03 616.73,142.55 616.88,142.57 617.04,142.23 617.2,142.4 617.35,143.01 617.51,142.77 617.66,142.61 617.82,142.2 617.98,142.5 618.13,142.85 618.29,142.54 618.45,142.68 618.6,142.96 618.76,142.73 618.92,142.72 619.07,142.18 619.23,142.17 619.39,142.84 619.54,142.52 619.7,142.94 619.86,142.89 620.01,142.97 620.17,142.49 620.33,143.06 620.48,142.85 620.64,142.97 620.79,142.27 620.95,142.7 621.11,142.13 621.26,142.34 621.42,142.26 621.58,141.8 621.73,142.53 621.89,142.93 622.05,143.36 622.2,143.09 622.36,143.15 622.52,142.41 622.67,142.32 622.83,142.54 622.99,142.2 623.14,142.49 623.3,142.96 623.46,142.95 623.61,142.33 623.77,142.17 623.92,142.9 624.08,143.01 624.24,142.69 624.39,142.27 624.55,142.36 624.71,142.98 624.86,142.99 625.02,142.18 625.18,142.32 625.33,142.54 625.49,142.39 625.65,142.83 625.8,142.49 625.96,142.85 626.12,142.29 626.27,142.62 626.43,143.03 626.59,142.78 626.74,142.23 626.9,142.25 627.05,142.73 627.21,142.49 627.37,142.48 627.52,142.58 627.68,142.67 627.84,143.02 627.99,142.37 628.15,142.66 628.31,142.39 628.46,142.64 628.62,142.81 628.78,142.27 628.93,142.58 629.09,142.79 629.25,142.16 629.4,142.84 629.56,142.53 629.72,142.6 629.87,142.7 630.03,142.86 630.18,142.2 630.34,142.6 630.5,142.18 630.65,142.5 630.81,142.46 630.97,142.17 631.12,142.42 631.28,142.56 631.44,142.74 631.59,142.98 631.75,142.48 631.91,142.63 632.06,142.79 632.22,142.99 632.38,143 632.53,143.04 632.69,142.42 632.85,142.3 633,142.99 633.16,142.22 633.31,142.55 633.47,142.81 633.63,142.63 633.78,142.5 633.94,142.98 634.1,142.42 634.25,142.65 634.41,142.9 634.57,142.27 634.72,142.47 634.88,142.59 635.04,142.66 635.19,142.34 635.35,142.56 635.51,142.2 635.66,142.23 635.82,142.46 635.98,142.28 636.13,143.02 636.29,142.39 636.44,142.4 636.6,142.86 636.76,142.82 636.91,142.39 637.07,142.9 637.23,142.71 637.38,142.5 637.54,142.72 637.7,142.37 637.85,142.39 638.01,142.94 638.17,142.54 638.32,142.96 638.48,142.31 638.64,142.27 638.79,142.2 638.95,142.82 639.11,142.66 639.26,142.16 639.42,142.19 639.57,142.89 639.73,142.59 639.89,142.93 640.04,142.19 640.2,142.68 640.36,142.26 640.51,142.8 640.67,142.7 640.83,142.7 640.98,142.35 641.14,143 641.3,142.25 641.45,142.21 641.61,142.77 641.77,142.23 641.92,142.21 642.08,142.56 642.24,142.73 642.39,142.95 642.55,142.8 642.7,142.21 642.86,142.73 643.02,142.91 643.17,142.26 643.33,142.83 643.49,142.38 643.64,142.42 643.8,142.15 643.96,142.83 644.11,142.61 644.27,142.96 644.43,142.57 644.58,142.29 644.74,142.34 644.9,142.39 645.05,143 645.21,142.33 645.37,142.23 645.52,142.47 645.68,142.22 645.83,142.53 645.99,142.71 646.15,142.74 646.3,142.31 646.46,142.27 646.62,142.59 646.77,142.77 646.93,142.55 647.09,142.67 647.24,142.97 647.4,142.28 647.56,142.4 647.71,142.61 647.87,142.65 648.03,142.94 648.18,142.5 648.34,142.34 648.5,141.85 648.65,142.07 648.81,142.36 648.96,142.41 649.12,142.79 649.28,143.17 649.43,143.15 649.59,143.35 649.75,142.54 649.9,142.73 650.06,142.71 650.22,142.99 650.37,142.25 650.53,142.84 650.69,142.45 650.84,142.24 651,142.72 651.16,142.91 651.31,142.67 651.47,142.19 651.63,143.02 651.78,142.5 651.94,142.72 652.09,142.8 652.25,142.38 652.41,142.52 652.56,142.45 652.72,142.24 652.88,142.21 653.03,142.8 653.19,142.52 653.35,142.93 653.5,142.21 653.66,142.42 653.82,142.31 653.97,143 654.13,142.86 654.29,142.96 654.44,142.61 654.6,142.24 654.76,142.52 654.91,142.35 655.07,142.17 655.22,142.66 655.38,142.41 655.54,142.25 655.69,142.61 655.85,142.99 656.01,143 656.16,142.57 656.32,142.24 656.48,142.84 656.63,142.25 656.79,142.63 656.95,142.23 657.1,143.04 657.26,142.64 657.42,142.54 657.57,142.39 657.73,142.65 657.89,143.03 658.04,142.54 658.2,142.34 658.35,142.61 658.51,142.98 658.67,142.49 658.82,142.72 658.98,142.98 659.14,142.44 659.29,142.88 659.45,142.63 659.61,142.28 659.76,142.2 659.92,143 660.08,142.57 660.23,142.55 660.39,142.98 660.55,142.67 660.7,142.6 660.86,142.41 661.02,142.82 661.17,142.38 661.33,142.57 661.48,142.83 661.64,142.69 661.8,142.27 661.95,142.33 662.11,142.78 662.27,142.81 662.42,142.24 662.58,143.05 662.74,142.27 662.89,142.3 663.05,142.23 663.21,142.55 663.36,142.71 663.52,142.92 663.68,142.3 663.83,142.78 663.99,142.24 664.15,142.67 664.3,142.38 664.46,142.47 664.61,142.2 664.77,142.8 664.93,142.26 665.08,142.84 665.24,142.45 665.4,142.68 665.55,142.73 665.71,142.59 665.87,142.94 666.02,142.98 666.18,142.4 666.34,142.45 666.49,142.94 666.65,142.27 666.81,142.53 666.96,142.52 667.12,143.03 667.28,142.27 667.43,142.74 667.59,142.83 667.74,142.81 667.9,142.15 668.06,143 668.21,142.43 668.37,142.92 668.53,142.75 668.68,142.53 668.84,142.9 669,142.76 669.15,142.46 669.31,142.81 669.47,142.6 669.62,142.79 669.78,142.7 669.94,142.87 670.09,142.29 670.25,142.6 670.41,142.15 670.56,142.86 670.72,142.84 670.87,142.9 671.03,142.19 671.19,142.63 671.34,142.58 671.5,142.26 671.66,142.33 671.81,143.03 671.97,142.92 672.13,142.36 672.28,142.9 672.44,142.74 672.6,142.5 672.75,142.73 672.91,142.36 673.07,142.4 673.22,142.16 673.38,142.74 673.54,142.67 673.69,142.82 673.85,142.6 674,142.54 674.16,142.43 674.32,142.81 674.47,142.49 674.63,142.69 674.79,142.83 674.94,142.55 675.1,142.77 675.26,142.21 675.41,142.38 675.57,142.91 675.73,142.28 675.88,142.2 676.04,142.16 676.2,142.84 676.35,142.25 676.51,142.56 676.67,142.54 676.82,142.87 676.98,142.58 677.13,142.62 677.29,142.17 677.45,142.87 677.6,142.84 677.76,142.71 677.92,142.9 678.07,142.7 678.23,142.79 678.39,142.92 678.54,142.71 678.7,142.17" fill="none" stroke="#3a3af5" stroke-width="0.9" stroke-linejoin="round" />
<line x1="513.4" y1="120.4" x2="513.4" y2="124.2" stroke="#c080e0" stroke-width="1.2" />
<line x1="570" y1="120.4" x2="570" y2="124.2" stroke="#c080e0" stroke-width="1.2" />
<line x1="596.38" y1="120.4" x2="596.38" y2="124.2" stroke="#c080e0" stroke-width="1.2" />
<line x1="635.41" y1="120.4" x2="635.41" y2="124.2" stroke="#c080e0" stroke-width="1.2" />
<line x1="656.48" y1="120.4" x2="656.48" y2="124.2" stroke="#c080e0" stroke-width="1.2" />
<line x1="506.39" y1="129.8" x2="506.39" y2="133.8" stroke="#1aa01a" stroke-width="1.2" />
<line x1="509.68" y1="129.8" x2="509.68" y2="133.8" stroke="#1aa01a" stroke-width="1.2" />
<line x1="521.7" y1="129.8" x2="521.7" y2="133.8" stroke="#1aa01a" stroke-width="1.2" />
<line x1="560.39" y1="129.8" x2="560.39" y2="133.8" stroke="#1aa01a" stroke-width="1.2" />
<line x1="564.45" y1="129.8" x2="564.45" y2="133.8" stroke="#1aa01a" stroke-width="1.2" />
<line x1="583.86" y1="129.8" x2="583.86" y2="133.8" stroke="#1aa01a" stroke-width="1.2" />
<line x1="587.4" y1="129.8" x2="587.4" y2="133.8" stroke="#1aa01a" stroke-width="1.2" />
<line x1="589.18" y1="129.8" x2="589.18" y2="133.8" stroke="#1aa01a" stroke-width="1.2" />
<line x1="596.38" y1="129.8" x2="596.38" y2="133.8" stroke="#1aa01a" stroke-width="1.2" />
<line x1="623.39" y1="129.8" x2="623.39" y2="133.8" stroke="#1aa01a" stroke-width="1.2" />
<line x1="637.29" y1="129.8" x2="637.29" y2="133.8" stroke="#1aa01a" stroke-width="1.2" />
<line x1="641.89" y1="129.8" x2="641.89" y2="133.8" stroke="#1aa01a" stroke-width="1.2" />
<line x1="646.77" y1="129.8" x2="646.77" y2="133.8" stroke="#1aa01a" stroke-width="1.2" />
<line x1="652.6" y1="129.8" x2="652.6" y2="133.8" stroke="#1aa01a" stroke-width="1.2" />
<line x1="667.49" y1="129.8" x2="667.49" y2="133.8" stroke="#1aa01a" stroke-width="1.2" />
<line x1="676.2" y1="129.8" x2="676.2" y2="133.8" stroke="#1aa01a" stroke-width="1.2" />
<line x1="679.64" y1="129.8" x2="679.64" y2="133.8" stroke="#1aa01a" stroke-width="1.2" />
<line x1="683.08" y1="129.8" x2="683.08" y2="133.8" stroke="#1aa01a" stroke-width="1.2" />
<rect x="490.7" y="1.2" width="188.8" height="151" fill="none" stroke="#363636" stroke-width="1.2"/>
<line x1="506.55" y1="152.2" x2="506.55" y2="150.5" stroke="#363636" stroke-width="1" />
<line x1="522.2" y1="152.2" x2="522.2" y2="149.6" stroke="#363636" stroke-width="1" />
<line x1="537.85" y1="152.2" x2="537.85" y2="150.5" stroke="#363636" stroke-width="1" />
<line x1="553.5" y1="152.2" x2="553.5" y2="149.6" stroke="#363636" stroke-width="1" />
<line x1="569.15" y1="152.2" x2="569.15" y2="150.5" stroke="#363636" stroke-width="1" />
<line x1="584.8" y1="152.2" x2="584.8" y2="149.6" stroke="#363636" stroke-width="1" />
<line x1="600.45" y1="152.2" x2="600.45" y2="150.5" stroke="#363636" stroke-width="1" />
<line x1="616.1" y1="152.2" x2="616.1" y2="149.6" stroke="#363636" stroke-width="1" />
<line x1="631.75" y1="152.2" x2="631.75" y2="150.5" stroke="#363636" stroke-width="1" />
<line x1="647.4" y1="152.2" x2="647.4" y2="149.6" stroke="#363636" stroke-width="1" />
<line x1="663.05" y1="152.2" x2="663.05" y2="150.5" stroke="#363636" stroke-width="1" />
<text x="490.9" y="164.1" font-size="10.6" fill="#141414" text-anchor="middle" font-weight="normal" >20</text>
<text x="522.2" y="164.1" font-size="10.6" fill="#141414" text-anchor="middle" font-weight="normal" >30</text>
<text x="553.5" y="164.1" font-size="10.6" fill="#141414" text-anchor="middle" font-weight="normal" >40</text>
<text x="584.8" y="164.1" font-size="10.6" fill="#141414" text-anchor="middle" font-weight="normal" >50</text>
<text x="616.1" y="164.1" font-size="10.6" fill="#141414" text-anchor="middle" font-weight="normal" >60</text>
<text x="647.4" y="164.1" font-size="10.6" fill="#141414" text-anchor="middle" font-weight="normal" >70</text>
<text x="678.7" y="164.1" font-size="10.6" fill="#141414" text-anchor="middle" font-weight="normal" >80</text>
<text x="588" y="176" font-size="11.2" fill="#141414" text-anchor="middle" font-weight="normal" >2<tspan font-family="Liberation Serif" font-size="12">θ</tspan> (degree)</text>
<text x="485.6" y="76.7" font-size="11.3" fill="#141414" text-anchor="middle" font-weight="normal" transform="rotate(-90 485.6 76.7)" >Intensity (a.u.)</text>
<text x="466.5" y="13" font-size="18" fill="#000" text-anchor="start" font-weight="bold" >c</text>
<circle cx="634.3" cy="10.5" r="0.9" fill="#333"/>
<text x="646" y="15.3" font-size="9.8" fill="#141414">I<tspan font-size="6.6" dy="2">exp</tspan></text>
<line x1="624.5" y1="24.3" x2="642.5" y2="24.3" stroke="#e81010" stroke-width="1" />
<text x="646" y="29" font-size="9.8" fill="#141414">I<tspan font-size="6.6" dy="2">cal</tspan></text>
<line x1="624.5" y1="37.5" x2="642.5" y2="37.5" stroke="#5a5af5" stroke-width="1" />
<text x="646" y="42.3" font-size="9.8" fill="#141414">I<tspan font-size="6.6" dy="2">exp</tspan><tspan dy="-2">-I</tspan><tspan font-size="6.6" dy="2">cal</tspan></text>
<line x1="634.3" y1="50" x2="634.3" y2="53.3" stroke="#1aa01a" stroke-width="1.2" />
<text x="646" y="55" font-size="9.8" fill="#141414" text-anchor="start" font-weight="normal" >GeTe</text>
<line x1="634.3" y1="61" x2="634.3" y2="64.5" stroke="#c080e0" stroke-width="1.2" />
<text x="646" y="65.8" font-size="9.8" fill="#141414" text-anchor="start" font-weight="normal" >Ge</text>
<line x1="32.3" y1="181.9" x2="222.3" y2="181.9" stroke="#363636" stroke-width="1.2"/>
<line x1="32.3" y1="333.2" x2="222.3" y2="333.2" stroke="#363636" stroke-width="1.2"/>
<line x1="32.3" y1="181.3" x2="32.3" y2="333.8" stroke="#2a2aff" stroke-width="1.3" />
<line x1="222.3" y1="181.3" x2="222.3" y2="333.8" stroke="#ff2424" stroke-width="1.3" />
<line x1="32.3" y1="315.25" x2="35.3" y2="315.25" stroke="#2a2aff" stroke-width="1" />
<line x1="32.3" y1="293" x2="35.3" y2="293" stroke="#2a2aff" stroke-width="1" />
<line x1="32.3" y1="270.75" x2="35.3" y2="270.75" stroke="#2a2aff" stroke-width="1" />
<line x1="32.3" y1="248.5" x2="35.3" y2="248.5" stroke="#2a2aff" stroke-width="1" />
<line x1="32.3" y1="226.25" x2="35.3" y2="226.25" stroke="#2a2aff" stroke-width="1" />
<line x1="32.3" y1="204" x2="35.3" y2="204" stroke="#2a2aff" stroke-width="1" />
<line x1="32.3" y1="181.75" x2="35.3" y2="181.75" stroke="#2a2aff" stroke-width="1" />
<line x1="222.3" y1="318.1" x2="219.3" y2="318.1" stroke="#ff2424" stroke-width="1" />
<line x1="222.3" y1="291.85" x2="219.3" y2="291.85" stroke="#ff2424" stroke-width="1" />
<line x1="222.3" y1="265.6" x2="219.3" y2="265.6" stroke="#ff2424" stroke-width="1" />
<line x1="222.3" y1="239.35" x2="219.3" y2="239.35" stroke="#ff2424" stroke-width="1" />
<line x1="222.3" y1="213.1" x2="219.3" y2="213.1" stroke="#ff2424" stroke-width="1" />
<line x1="222.3" y1="186.85" x2="219.3" y2="186.85" stroke="#ff2424" stroke-width="1" />
<line x1="55.6" y1="333.2" x2="55.6" y2="330.2" stroke="#363636" stroke-width="1" />
<line x1="102.8" y1="333.2" x2="102.8" y2="330.2" stroke="#363636" stroke-width="1" />
<line x1="149.4" y1="333.2" x2="149.4" y2="330.2" stroke="#363636" stroke-width="1" />
<line x1="196.5" y1="333.2" x2="196.5" y2="330.2" stroke="#363636" stroke-width="1" />
<text x="55.6" y="344.8" font-size="10.6" fill="#141414" text-anchor="middle" font-weight="normal" >0.00</text>
<text x="102.8" y="344.8" font-size="10.6" fill="#141414" text-anchor="middle" font-weight="normal" >0.03</text>
<text x="149.4" y="344.8" font-size="10.6" fill="#141414" text-anchor="middle" font-weight="normal" >0.05</text>
<text x="196.5" y="344.8" font-size="10.6" fill="#141414" text-anchor="middle" font-weight="normal" >0.07</text>
<text x="125.5" y="356.2" font-size="11" fill="#141414" text-anchor="middle" font-weight="normal" >Content&#160; x</text>
<text x="0" y="0" font-size="11" fill="#2a2aff" text-anchor="end" transform="translate(30 313.75) rotate(-45)">4.15</text>
<text x="0" y="0" font-size="11" fill="#2a2aff" text-anchor="end" transform="translate(30 269.25) rotate(-45)">4.20</text>
<text x="0" y="0" font-size="11" fill="#2a2aff" text-anchor="end" transform="translate(30 224.75) rotate(-45)">4.25</text>
<text x="0" y="0" font-size="11" fill="#2a2aff" text-anchor="end" transform="translate(30 180.25) rotate(-45)">4.30</text>
<text x="0" y="0" font-size="11" fill="#ff2424" text-anchor="start" transform="translate(228.2 325.1) rotate(-45)">57</text>
<text x="0" y="0" font-size="11" fill="#ff2424" text-anchor="start" transform="translate(228.2 272.6) rotate(-45)">58</text>
<text x="0" y="0" font-size="11" fill="#ff2424" text-anchor="start" transform="translate(228.2 220.1) rotate(-45)">59</text>
<text x="10.6" y="250.3" font-size="10.6" fill="#2a2aff" text-anchor="middle" font-weight="normal" transform="rotate(-90 10.6 250.3)" >a=b (Å)</text>
<text x="243.2" y="259.5" font-size="11" fill="#ff2424" text-anchor="middle" font-weight="normal" transform="rotate(-90 243.2 259.5)" >α (°)</text>
<text x="0" y="195.5" font-size="18" fill="#000" text-anchor="start" font-weight="bold" >d</text>
<path d="M55.6,264.9 C63.47,263.07 87.17,258.1 102.8,253.9 C118.43,249.7 133.78,244.85 149.4,239.7 C165.02,234.55 188.65,225.78 196.5,223" fill="none" stroke="#ff1414" stroke-width="1.25" stroke-dasharray="6 4" stroke-dashoffset="-3"/>
<path d="M55.6,303.9 C63.47,302.23 87.17,297.28 102.8,293.9 C118.43,290.52 133.78,287.4 149.4,283.6 C165.02,279.8 188.65,273.18 196.5,271.1" fill="none" stroke="#1c1cff" stroke-width="1.25" stroke-dasharray="6 4" stroke-dashoffset="-3"/>
<circle cx="55.6" cy="264.9" r="3" fill="#ff0000"/>
<circle cx="102.8" cy="253.9" r="3" fill="#ff0000"/>
<circle cx="149.4" cy="239.7" r="3" fill="#ff0000"/>
<circle cx="196.5" cy="223.0" r="3" fill="#ff0000"/>
<rect x="53.300000000000004" y="301.29999999999995" width="4.6" height="5.2" fill="#fff" stroke="#1c1cff" stroke-width="1"/>
<rect x="55.6" y="301.29999999999995" width="2.3" height="5.2" fill="#1c1cff"/>
<rect x="100.5" y="291.29999999999995" width="4.6" height="5.2" fill="#fff" stroke="#1c1cff" stroke-width="1"/>
<rect x="102.8" y="291.29999999999995" width="2.3" height="5.2" fill="#1c1cff"/>
<rect x="147.1" y="281.0" width="4.6" height="5.2" fill="#fff" stroke="#1c1cff" stroke-width="1"/>
<rect x="149.4" y="281.0" width="2.3" height="5.2" fill="#1c1cff"/>
<rect x="194.2" y="268.5" width="4.6" height="5.2" fill="#fff" stroke="#1c1cff" stroke-width="1"/>
<rect x="196.5" y="268.5" width="2.3" height="5.2" fill="#1c1cff"/>
<polygon points="354.9,232.3 366.21,232.3 363.46,235.06 427.8,299.4 422,305.2 357.66,240.86 354.9,243.61" fill="#fdbcbc"/>
<rect x="260.9" y="182.3" width="189.5" height="152" fill="none" stroke="#363636" stroke-width="1.2"/>
<line x1="270.5" y1="334.3" x2="270.5" y2="331.3" stroke="#363636" stroke-width="1" />
<line x1="295.25" y1="334.3" x2="295.25" y2="332.5" stroke="#363636" stroke-width="1" />
<line x1="320" y1="334.3" x2="320" y2="331.3" stroke="#363636" stroke-width="1" />
<line x1="344.75" y1="334.3" x2="344.75" y2="332.5" stroke="#363636" stroke-width="1" />
<line x1="369.5" y1="334.3" x2="369.5" y2="331.3" stroke="#363636" stroke-width="1" />
<line x1="394.25" y1="334.3" x2="394.25" y2="332.5" stroke="#363636" stroke-width="1" />
<line x1="419" y1="334.3" x2="419" y2="331.3" stroke="#363636" stroke-width="1" />
<line x1="443.75" y1="334.3" x2="443.75" y2="332.5" stroke="#363636" stroke-width="1" />
<text x="270.5" y="346.5" font-size="10.6" fill="#141414" text-anchor="middle" font-weight="normal" >500</text>
<text x="320" y="346.5" font-size="10.6" fill="#141414" text-anchor="middle" font-weight="normal" >550</text>
<text x="369.5" y="346.5" font-size="10.6" fill="#141414" text-anchor="middle" font-weight="normal" >600</text>
<text x="419" y="346.5" font-size="10.6" fill="#141414" text-anchor="middle" font-weight="normal" >650</text>
<text x="357.5" y="357.6" font-size="10.6" fill="#141414" text-anchor="middle" font-weight="normal" >T (K)</text>
<text x="256.5" y="259.4" font-size="10.75" fill="#141414" text-anchor="middle" font-weight="normal" transform="rotate(-90 256.5 259.4)" >Heat flow (mW/mg)</text>
<text x="240" y="193" font-size="18" fill="#000" text-anchor="start" font-weight="bold" >e</text>
<text x="355.7" y="201.3" font-size="10.6" font-weight="bold" fill="#111">(GeTe)<tspan font-size="7.2" dy="2.4">1-x</tspan><tspan dy="-2.4">(CuBiS</tspan><tspan font-size="7.2" dy="2.4">2</tspan><tspan dy="-2.4">)</tspan><tspan font-size="7.2" dy="2.4">x</tspan></text>
<path d="M261,320 268.22,319.87 278.62,319.68 289.97,319.48 300,319.3 308.37,319.16 316.19,319.02 323.41,318.91 330,318.8 335.47,318.72 340,318.67 344.53,318.61 350,318.5 356.91,318.36 364.69,318.19 372.62,317.98 380,317.7 387.02,317.33 393.94,316.89 400.13,316.43 405,316 408.11,315.61 409.88,315.22 410.95,314.86 412,314.5 412.98,314.21 413.62,313.96 414.2,313.65 415,313.2 416.16,312.51 417.5,311.66 418.84,310.77 420,310 420.91,309.35 421.69,308.75 422.37,308.23 423,307.8 423.58,307.47 424.09,307.24 424.56,307.08 425,307 425.41,306.99 425.78,307.05 426.14,307.19 426.5,307.4 426.82,307.64 427.09,307.91 427.45,308.33 428,309 428.8,310.03 429.78,311.33 430.87,312.72 432,314 433.11,315.2 434.25,316.4 435.52,317.47 437,318.3 438.86,318.8 441,319.06 443.14,319.18 445,319.3 446.58,319.41 448,319.46 449.17,319.48 450,319.5" fill="none" stroke="#b466d6" stroke-width="1.2" stroke-linejoin="round" />
<path d="M261,292.3 262.59,292.35 264.88,292.43 267.47,292.51 270,292.6 272.43,292.72 274.94,292.86 277.48,292.98 280,293 282.5,292.89 285,292.68 287.5,292.45 290,292.3 292.5,292.25 295,292.26 297.5,292.29 300,292.3 302.5,292.28 305,292.24 307.5,292.21 310,292.2 312.55,292.21 315.12,292.24 317.64,292.27 320,292.3 322.28,292.37 324.5,292.47 326.47,292.51 328,292.4 328.78,292.05 329,291.53 329.22,291 330,290.6 331.6,290.36 333.69,290.2 335.93,290.14 338,290.2 339.87,290.45 341.69,290.86 343.41,291.29 345,291.6 346.25,291.77 347.25,291.88 348.38,291.9 350,291.8 352.3,291.46 355.06,290.94 358.04,290.48 361,290.3 363.93,290.65 366.94,291.34 369.98,291.99 373,292.2 376.05,291.77 379.12,290.94 382.14,289.99 385,289.2 387.76,288.65 390.44,288.18 392.9,287.74 395,287.3 396.6,286.88 397.81,286.5 398.87,286.07 400,285.5 401.3,284.72 402.62,283.79 403.89,282.84 405,282 405.89,281.27 406.62,280.59 407.3,280 408,279.5 408.79,279.09 409.59,278.75 410.36,278.54 411,278.5 411.48,278.66 411.84,279 412.16,279.46 412.5,280 412.84,280.62 413.16,281.34 413.52,282.14 414,283 414.6,283.96 415.28,285.03 416.07,286.08 417,287 418.04,287.74 419.19,288.38 420.49,288.95 422,289.5 423.74,290.09 425.69,290.67 427.79,291.17 430,291.5 432.36,291.62 434.88,291.58 437.45,291.44 440,291.3 442.73,291.12 445.62,290.89 448.2,290.66 450,290.5" fill="none" stroke="#5a84e4" stroke-width="1.2" stroke-linejoin="round" />
<path d="M261,263.5 263.61,263.41 267.38,263.28 271.45,263.14 275,263 277.78,262.85 280.25,262.69 282.59,262.55 285,262.5 287.59,262.56 290.25,262.71 292.78,262.87 295,263 296.91,263.04 298.58,263.04 299.97,263.07 301,263.2 301.53,263.52 301.64,263.98 301.61,264.39 301.7,264.6 301.73,264.49 301.64,264.18 301.91,263.82 303,263.6 305.29,263.56 308.46,263.61 311.89,263.71 315,263.8 317.69,263.89 320.25,264.01 322.69,264.12 325,264.2 327.16,264.27 329.19,264.32 331.12,264.35 333,264.3 334.75,264.16 336.38,263.94 338.06,263.7 340,263.5 342.17,263.34 344.5,263.18 347.08,263.06 350,263 353.59,263.05 357.69,263.18 361.7,263.3 365,263.3 367.34,263.18 369.06,262.98 370.51,262.69 372,262.3 373.56,261.79 375.03,261.18 376.49,260.5 378,259.8 379.68,259 381.47,258.09 383.14,257.29 384.5,256.8 385.39,256.7 385.97,256.86 386.43,257.2 387,257.6 387.67,258.06 388.34,258.63 389.1,259.29 390,260 390.99,260.85 392.06,261.82 393.35,262.75 395,263.5 397.15,264.05 399.69,264.48 402.38,264.74 405,264.8 407.57,264.56 410.19,264.08 412.71,263.5 415,263 416.94,262.55 418.62,262.07 420.25,261.69 422,261.5 423.88,261.59 425.81,261.89 427.84,262.24 430,262.5 432.36,262.64 434.88,262.73 437.45,262.78 440,262.8 442.73,262.76 445.62,262.67 448.2,262.57 450,262.5" fill="none" stroke="#3aa83a" stroke-width="1.2" stroke-linejoin="round" />
<path d="M261,237.8 263.49,237.72 267.06,237.6 271.1,237.46 275,237.3 278.8,237.12 282.75,236.91 286.58,236.7 290,236.5 292.83,236.3 295.25,236.09 297.55,235.91 300,235.8 302.9,235.79 306.03,235.84 308.89,235.93 311,236 312.06,235.99 312.39,235.94 312.4,235.97 312.5,236.2 312.72,236.81 312.86,237.67 313,238.51 313.2,239 313.38,239 313.55,238.7 313.87,238.3 314.5,238 315.47,237.84 316.71,237.71 318.21,237.63 320,237.6 322.23,237.68 324.84,237.84 327.54,237.98 330,238 332.2,237.87 334.29,237.65 336.24,237.35 338,237 339.53,236.57 340.86,236.06 342.08,235.52 343.3,235 344.58,234.48 345.86,233.96 347.03,233.45 348,233 348.67,232.67 349.11,232.43 349.49,232.14 350,231.7 350.7,231.01 351.5,230.16 352.3,229.28 353,228.5 353.59,227.8 354.12,227.12 354.59,226.56 355,226.2 355.31,226.05 355.53,226.07 355.74,226.26 356,226.6 356.32,227.12 356.66,227.83 357.04,228.64 357.5,229.5 358.07,230.46 358.72,231.54 359.39,232.6 360,233.5 360.46,234.18 360.84,234.73 361.3,235.21 362,235.7 362.97,236.24 364.12,236.78 365.47,237.26 367,237.6 368.91,237.75 371.12,237.75 373.28,237.7 375,237.7 376.05,237.8 376.69,237.95 377.23,238.05 378,238 379.06,237.71 380.25,237.25 381.56,236.79 383,236.5 384.07,236.45 384.94,236.55 386.59,236.7 390,236.8 396.47,236.83 405.12,236.83 413.72,236.84 420,236.9 422.89,237.02 423.75,237.18 423.98,237.35 425,237.5 427.15,237.63 429.69,237.76 432.38,237.86 435,237.9 437.62,237.85 440.31,237.74 442.85,237.6 445,237.5 446.72,237.43 448.12,237.38 449.22,237.33 450,237.3" fill="none" stroke="#f02020" stroke-width="1.2" stroke-linejoin="round" />
<text x="269.8" y="232.7" font-size="7.9" fill="#141414" text-anchor="start" font-weight="normal" >x = 0.07</text>
<text x="269.8" y="258" font-size="7.9" fill="#141414" text-anchor="start" font-weight="normal" >x = 0.05</text>
<text x="269.8" y="287.8" font-size="7.9" fill="#141414" text-anchor="start" font-weight="normal" >x = 0.03</text>
<text x="271.6" y="315.7" font-size="7.9" fill="#141414" text-anchor="start" font-weight="normal" >x = 0</text>
<rect x="490.3" y="182.2" width="189.8" height="152.2" fill="none" stroke="#363636" stroke-width="1.2"/>
<line x1="490.3" y1="334.2" x2="492.1" y2="334.2" stroke="#363636" stroke-width="1" />
<line x1="490.3" y1="319" x2="493.3" y2="319" stroke="#363636" stroke-width="1" />
<line x1="490.3" y1="303.8" x2="492.1" y2="303.8" stroke="#363636" stroke-width="1" />
<line x1="490.3" y1="288.6" x2="493.3" y2="288.6" stroke="#363636" stroke-width="1" />
<line x1="490.3" y1="273.4" x2="492.1" y2="273.4" stroke="#363636" stroke-width="1" />
<line x1="490.3" y1="258.2" x2="493.3" y2="258.2" stroke="#363636" stroke-width="1" />
<line x1="490.3" y1="243" x2="492.1" y2="243" stroke="#363636" stroke-width="1" />
<line x1="490.3" y1="227.8" x2="493.3" y2="227.8" stroke="#363636" stroke-width="1" />
<line x1="490.3" y1="212.6" x2="492.1" y2="212.6" stroke="#363636" stroke-width="1" />
<line x1="490.3" y1="197.4" x2="493.3" y2="197.4" stroke="#363636" stroke-width="1" />
<line x1="490.3" y1="182.2" x2="492.1" y2="182.2" stroke="#363636" stroke-width="1" />
<text x="486.7" y="322.7" font-size="10.8" fill="#141414" text-anchor="end" font-weight="normal" >580</text>
<text x="486.7" y="292.3" font-size="10.8" fill="#141414" text-anchor="end" font-weight="normal" >600</text>
<text x="486.7" y="261.9" font-size="10.8" fill="#141414" text-anchor="end" font-weight="normal" >620</text>
<text x="486.7" y="231.5" font-size="10.8" fill="#141414" text-anchor="end" font-weight="normal" >640</text>
<text x="486.7" y="201.1" font-size="10.8" fill="#141414" text-anchor="end" font-weight="normal" >660</text>
<line x1="511" y1="334.4" x2="511" y2="331.4" stroke="#363636" stroke-width="1" />
<text x="511" y="345.6" font-size="10.6" fill="#141414" text-anchor="middle" font-weight="normal" >0</text>
<line x1="574.3" y1="334.4" x2="574.3" y2="331.4" stroke="#363636" stroke-width="1" />
<text x="574.3" y="345.6" font-size="10.6" fill="#141414" text-anchor="middle" font-weight="normal" >0.03</text>
<line x1="616.5" y1="334.4" x2="616.5" y2="331.4" stroke="#363636" stroke-width="1" />
<text x="616.5" y="345.6" font-size="10.6" fill="#141414" text-anchor="middle" font-weight="normal" >0.05</text>
<line x1="658.7" y1="334.4" x2="658.7" y2="331.4" stroke="#363636" stroke-width="1" />
<text x="658.7" y="345.6" font-size="10.6" fill="#141414" text-anchor="middle" font-weight="normal" >0.07</text>
<text x="587.5" y="355.8" font-size="10.8" fill="#141414" text-anchor="middle" font-weight="normal" >Content x</text>
<text x="464.5" y="258" font-size="10.6" fill="#141414" text-anchor="middle" font-weight="normal" transform="rotate(-90 464.5 258)" >T(K)</text>
<text x="463" y="197" font-size="18" fill="#000" text-anchor="start" font-weight="bold" >f</text>
<path d="M511,201.96 574.3,226.28 616.5,265.8 658.7,309.88" fill="none" stroke="#1c1cff" stroke-width="1.2" stroke-linejoin="round" />
<polygon points="511,198.06 512.06,200.9 515.09,201.03 512.71,202.92 513.53,205.84 511,204.16 508.47,205.84 509.29,202.92 506.91,201.03 509.94,200.9" fill="#1010ff"/>
<polygon points="574.3,222.38 575.36,225.22 578.39,225.35 576.01,227.24 576.83,230.16 574.3,228.48 571.77,230.16 572.59,227.24 570.21,225.35 573.24,225.22" fill="#1010ff"/>
<polygon points="616.5,261.9 617.56,264.74 620.59,264.87 618.21,266.76 619.03,269.68 616.5,268 613.97,269.68 614.79,266.76 612.41,264.87 615.44,264.74" fill="#1010ff"/>
<polygon points="658.7,305.98 659.76,308.82 662.79,308.95 660.41,310.84 661.23,313.76 658.7,312.08 656.17,313.76 656.99,310.84 654.61,308.95 657.64,308.82" fill="#1010ff"/>
</svg></body></html>
